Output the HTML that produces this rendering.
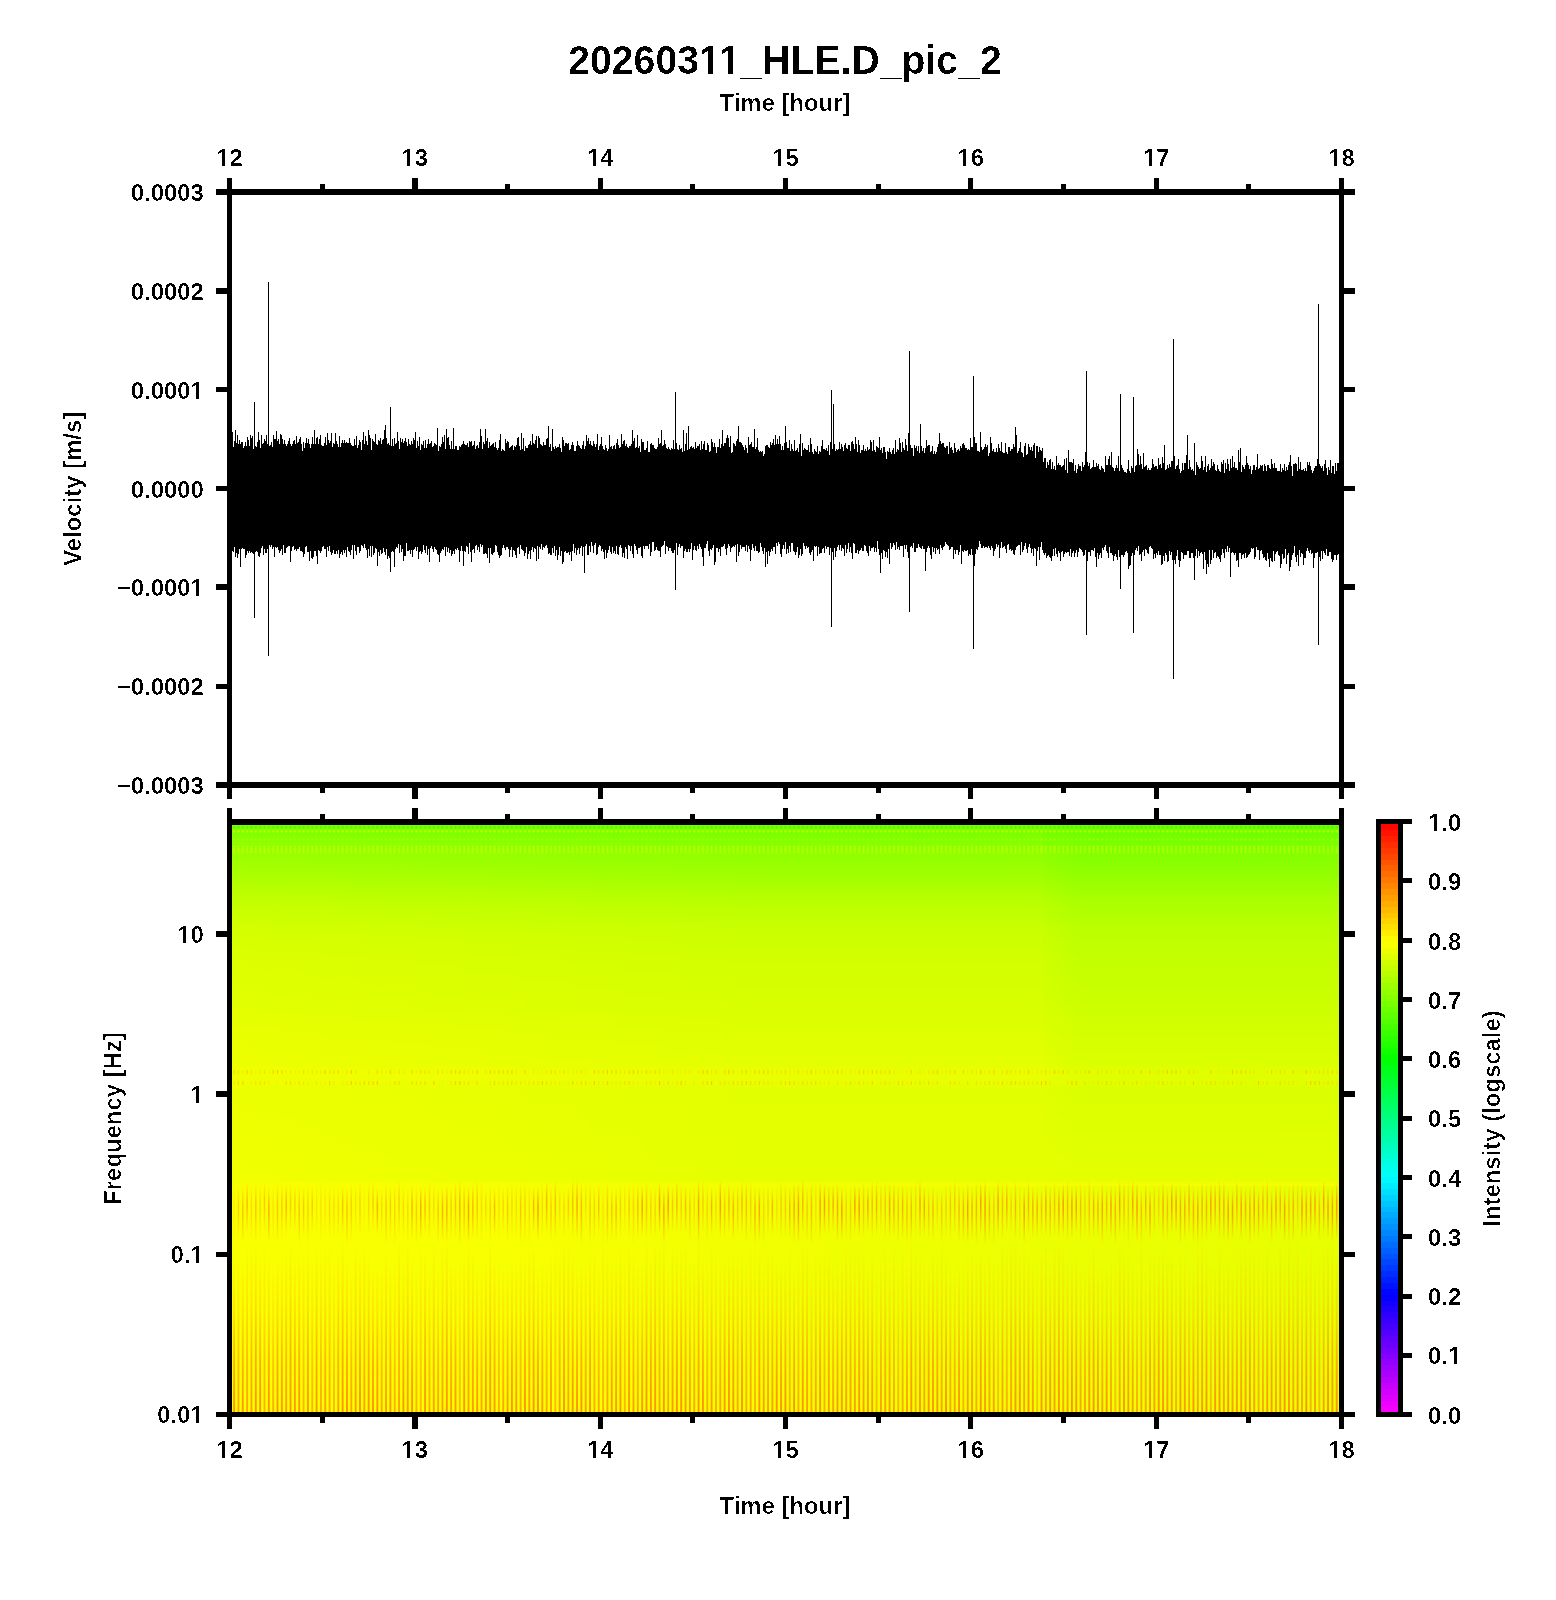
<!DOCTYPE html><html><head><meta charset="utf-8"><style>html,body{margin:0;padding:0;background:#fff;}svg{display:block}</style></head><body>
<svg width="1556" height="1600" viewBox="0 0 1556 1600" font-family="Liberation Sans, sans-serif" font-weight="bold">
<rect width="1556" height="1600" fill="#fff"/>
<defs><linearGradient id="sg" x1="0" y1="825" x2="0" y2="1412" gradientUnits="userSpaceOnUse"><stop offset="0.0000" stop-color="rgb(118, 255, 0)"/><stop offset="0.0170" stop-color="rgb(124, 255, 0)"/><stop offset="0.0426" stop-color="rgb(140, 255, 0)"/><stop offset="0.0937" stop-color="rgb(165, 255, 0)"/><stop offset="0.1278" stop-color="rgb(184, 255, 0)"/><stop offset="0.1789" stop-color="rgb(202, 255, 0)"/><stop offset="0.2300" stop-color="rgb(210, 255, 0)"/><stop offset="0.2981" stop-color="rgb(215, 255, 0)"/><stop offset="0.3492" stop-color="rgb(222, 255, 0)"/><stop offset="0.4003" stop-color="rgb(227, 255, 0)"/><stop offset="0.4310" stop-color="rgb(234, 255, 0)"/><stop offset="0.4514" stop-color="rgb(226, 255, 0)"/><stop offset="0.6048" stop-color="rgb(229, 255, 0)"/><stop offset="0.6150" stop-color="rgb(249, 255, 0)"/><stop offset="1.0000" stop-color="rgb(252, 255, 0)"/></linearGradient><linearGradient id="gR" x1="0" y1="825" x2="0" y2="1185" gradientUnits="userSpaceOnUse"><stop offset="0" stop-color="#00ff00" stop-opacity="0.09"/><stop offset="0.3" stop-color="#00ff00" stop-opacity="0.07"/><stop offset="0.7" stop-color="#00ff00" stop-opacity="0.035"/><stop offset="1" stop-color="#00ff00" stop-opacity="0"/></linearGradient><linearGradient id="gRh" x1="1030" y1="0" x2="1080" y2="0" gradientUnits="userSpaceOnUse"><stop offset="0" stop-color="#fff" stop-opacity="0"/><stop offset="1" stop-color="#fff" stop-opacity="1"/></linearGradient><mask id="mR" maskUnits="userSpaceOnUse" x="1030" y="825" width="320" height="400"><rect x="1030" y="825" width="320" height="400" fill="url(#gRh)"/></mask><linearGradient id="gLh" x1="232" y1="0" x2="780" y2="0" gradientUnits="userSpaceOnUse"><stop offset="0" stop-color="#fff" stop-opacity="1"/><stop offset="1" stop-color="#fff" stop-opacity="0"/></linearGradient><linearGradient id="gLv" x1="0" y1="825" x2="0" y2="1185" gradientUnits="userSpaceOnUse"><stop offset="0" stop-color="#ffff00" stop-opacity="0.05"/><stop offset="0.3" stop-color="#ffff00" stop-opacity="0.2"/><stop offset="0.75" stop-color="#ffff00" stop-opacity="0.35"/><stop offset="1" stop-color="#ffff00" stop-opacity="0.5"/></linearGradient><mask id="mL" maskUnits="userSpaceOnUse" x="232" y="825" width="560" height="400"><rect x="232" y="825" width="560" height="400" fill="url(#gLh)"/></mask><linearGradient id="gLow" x1="232" y1="0" x2="1339" y2="0" gradientUnits="userSpaceOnUse"><stop offset="0" stop-color="#00ff00" stop-opacity="0"/><stop offset="0.25" stop-color="#00ff00" stop-opacity="0.01"/><stop offset="0.6" stop-color="#00ff00" stop-opacity="0.045"/><stop offset="1" stop-color="#00ff00" stop-opacity="0.075"/></linearGradient><pattern id="pd" x="231.929" y="824" width="4.341" height="40" patternUnits="userSpaceOnUse"><ellipse cx="2.171" cy="3.3" rx="1.0" ry="1.3" fill="rgb(40,235,0)" fill-opacity="0.5"/><ellipse cx="2.171" cy="7.3" rx="1.0" ry="1.4" fill="rgb(235,255,0)" fill-opacity="0.65"/><ellipse cx="2.171" cy="15.4" rx="0.9" ry="1.2" fill="rgb(215,255,0)" fill-opacity="0.45"/><ellipse cx="2.171" cy="22.6" rx="0.9" ry="1.0" fill="rgb(240,255,0)" fill-opacity="0.5"/><ellipse cx="2.171" cy="24.6" rx="0.9" ry="1.0" fill="rgb(240,255,0)" fill-opacity="0.5"/><ellipse cx="2.171" cy="26.4" rx="0.9" ry="1.0" fill="rgb(245,255,0)" fill-opacity="0.55"/><ellipse cx="2.171" cy="28.4" rx="0.9" ry="1.0" fill="rgb(240,255,0)" fill-opacity="0.5"/></pattern><linearGradient id="gA" x1="0" y1="0" x2="0" y2="1"><stop offset="0" stop-color="rgb(255,150,0)" stop-opacity="0"/><stop offset="0.35" stop-color="rgb(255,150,0)" stop-opacity="0.9"/><stop offset="0.5" stop-color="rgb(255,150,0)" stop-opacity="0.9"/><stop offset="1" stop-color="rgb(255,150,0)" stop-opacity="0"/></linearGradient><linearGradient id="gB" x1="0" y1="0" x2="0" y2="1"><stop offset="0" stop-color="rgb(255,140,0)" stop-opacity="0"/><stop offset="0.35" stop-color="rgb(255,140,0)" stop-opacity="0.25"/><stop offset="0.7" stop-color="rgb(255,140,0)" stop-opacity="0.7"/><stop offset="1" stop-color="rgb(255,140,0)" stop-opacity="0.95"/></linearGradient></defs>
<rect x="232" y="825" width="1107" height="587" fill="url(#sg)"/><rect x="1043" y="825" width="296" height="360" fill="url(#gR)" mask="url(#mR)"/><rect x="232" y="825" width="550" height="360" fill="url(#gLv)" mask="url(#mL)"/><rect x="232" y="1186" width="1107" height="226" fill="url(#gLow)"/><rect x="232" y="825" width="1107" height="35" fill="url(#pd)"/><g fill="rgb(255,200,0)"><rect x="233.50" y="1070" width="1.2" height="4" opacity="0.63"/><rect x="233.50" y="1081" width="1.2" height="4" opacity="0.38"/><rect x="237.84" y="1070" width="1.2" height="4" opacity="0.41"/><rect x="237.84" y="1081" width="1.2" height="4" opacity="0.64"/><rect x="242.18" y="1070" width="1.2" height="4" opacity="0.29"/><rect x="242.18" y="1081" width="1.2" height="4" opacity="0.80"/><rect x="246.52" y="1070" width="1.2" height="4" opacity="0.82"/><rect x="250.86" y="1070" width="1.2" height="4" opacity="0.43"/><rect x="250.86" y="1081" width="1.2" height="4" opacity="0.23"/><rect x="255.21" y="1070" width="1.2" height="4" opacity="0.26"/><rect x="255.21" y="1081" width="1.2" height="4" opacity="0.49"/><rect x="259.55" y="1070" width="1.2" height="4" opacity="0.40"/><rect x="259.55" y="1081" width="1.2" height="4" opacity="0.62"/><rect x="263.89" y="1070" width="1.2" height="4" opacity="0.55"/><rect x="263.89" y="1081" width="1.2" height="4" opacity="0.56"/><rect x="268.23" y="1070" width="1.2" height="4" opacity="0.22"/><rect x="268.23" y="1081" width="1.2" height="4" opacity="0.35"/><rect x="272.57" y="1070" width="1.2" height="4" opacity="0.89"/><rect x="276.91" y="1070" width="1.2" height="4" opacity="0.97"/><rect x="276.91" y="1081" width="1.2" height="4" opacity="0.28"/><rect x="281.25" y="1070" width="1.2" height="4" opacity="0.80"/><rect x="285.59" y="1070" width="1.2" height="4" opacity="0.32"/><rect x="285.59" y="1081" width="1.2" height="4" opacity="0.70"/><rect x="289.93" y="1070" width="1.2" height="4" opacity="0.50"/><rect x="289.93" y="1081" width="1.2" height="4" opacity="0.76"/><rect x="294.27" y="1070" width="1.2" height="4" opacity="0.19"/><rect x="294.27" y="1081" width="1.2" height="4" opacity="0.28"/><rect x="298.62" y="1070" width="1.2" height="4" opacity="0.25"/><rect x="298.62" y="1081" width="1.2" height="4" opacity="0.60"/><rect x="302.96" y="1070" width="1.2" height="4" opacity="0.59"/><rect x="302.96" y="1081" width="1.2" height="4" opacity="0.41"/><rect x="307.30" y="1070" width="1.2" height="4" opacity="0.37"/><rect x="307.30" y="1081" width="1.2" height="4" opacity="0.36"/><rect x="311.64" y="1070" width="1.2" height="4" opacity="0.48"/><rect x="311.64" y="1081" width="1.2" height="4" opacity="0.17"/><rect x="315.98" y="1070" width="1.2" height="4" opacity="0.43"/><rect x="315.98" y="1081" width="1.2" height="4" opacity="0.41"/><rect x="320.32" y="1070" width="1.2" height="4" opacity="0.29"/><rect x="320.32" y="1081" width="1.2" height="4" opacity="0.28"/><rect x="324.66" y="1070" width="1.2" height="4" opacity="0.89"/><rect x="324.66" y="1081" width="1.2" height="4" opacity="0.27"/><rect x="329.00" y="1070" width="1.2" height="4" opacity="0.57"/><rect x="329.00" y="1081" width="1.2" height="4" opacity="0.86"/><rect x="333.34" y="1070" width="1.2" height="4" opacity="0.67"/><rect x="333.34" y="1081" width="1.2" height="4" opacity="0.46"/><rect x="337.68" y="1070" width="1.2" height="4" opacity="0.75"/><rect x="342.02" y="1070" width="1.2" height="4" opacity="0.08"/><rect x="342.02" y="1081" width="1.2" height="4" opacity="0.33"/><rect x="346.37" y="1070" width="1.2" height="4" opacity="0.38"/><rect x="346.37" y="1081" width="1.2" height="4" opacity="0.42"/><rect x="350.71" y="1070" width="1.2" height="4" opacity="1.00"/><rect x="350.71" y="1081" width="1.2" height="4" opacity="0.96"/><rect x="355.05" y="1070" width="1.2" height="4" opacity="0.44"/><rect x="355.05" y="1081" width="1.2" height="4" opacity="0.53"/><rect x="359.39" y="1070" width="1.2" height="4" opacity="0.18"/><rect x="359.39" y="1081" width="1.2" height="4" opacity="0.55"/><rect x="363.73" y="1081" width="1.2" height="4" opacity="0.87"/><rect x="368.07" y="1070" width="1.2" height="4" opacity="0.29"/><rect x="368.07" y="1081" width="1.2" height="4" opacity="0.62"/><rect x="372.41" y="1070" width="1.2" height="4" opacity="0.06"/><rect x="372.41" y="1081" width="1.2" height="4" opacity="0.87"/><rect x="376.75" y="1070" width="1.2" height="4" opacity="0.63"/><rect x="376.75" y="1081" width="1.2" height="4" opacity="1.00"/><rect x="381.09" y="1070" width="1.2" height="4" opacity="0.47"/><rect x="385.43" y="1070" width="1.2" height="4" opacity="0.21"/><rect x="385.43" y="1081" width="1.2" height="4" opacity="0.07"/><rect x="389.78" y="1070" width="1.2" height="4" opacity="0.92"/><rect x="389.78" y="1081" width="1.2" height="4" opacity="0.26"/><rect x="394.12" y="1070" width="1.2" height="4" opacity="0.22"/><rect x="394.12" y="1081" width="1.2" height="4" opacity="0.63"/><rect x="398.46" y="1070" width="1.2" height="4" opacity="0.53"/><rect x="398.46" y="1081" width="1.2" height="4" opacity="0.60"/><rect x="402.80" y="1070" width="1.2" height="4" opacity="0.30"/><rect x="411.48" y="1070" width="1.2" height="4" opacity="0.83"/><rect x="411.48" y="1081" width="1.2" height="4" opacity="0.72"/><rect x="415.82" y="1070" width="1.2" height="4" opacity="0.34"/><rect x="415.82" y="1081" width="1.2" height="4" opacity="0.64"/><rect x="420.16" y="1070" width="1.2" height="4" opacity="0.65"/><rect x="420.16" y="1081" width="1.2" height="4" opacity="0.64"/><rect x="424.50" y="1070" width="1.2" height="4" opacity="0.61"/><rect x="424.50" y="1081" width="1.2" height="4" opacity="0.72"/><rect x="428.84" y="1070" width="1.2" height="4" opacity="0.47"/><rect x="433.19" y="1081" width="1.2" height="4" opacity="0.83"/><rect x="437.53" y="1070" width="1.2" height="4" opacity="0.63"/><rect x="441.87" y="1070" width="1.2" height="4" opacity="0.50"/><rect x="441.87" y="1081" width="1.2" height="4" opacity="0.19"/><rect x="446.21" y="1070" width="1.2" height="4" opacity="0.29"/><rect x="450.55" y="1070" width="1.2" height="4" opacity="0.68"/><rect x="450.55" y="1081" width="1.2" height="4" opacity="0.42"/><rect x="454.89" y="1070" width="1.2" height="4" opacity="0.70"/><rect x="454.89" y="1081" width="1.2" height="4" opacity="0.78"/><rect x="459.23" y="1070" width="1.2" height="4" opacity="0.84"/><rect x="459.23" y="1081" width="1.2" height="4" opacity="0.95"/><rect x="463.57" y="1070" width="1.2" height="4" opacity="0.54"/><rect x="463.57" y="1081" width="1.2" height="4" opacity="0.52"/><rect x="467.91" y="1070" width="1.2" height="4" opacity="0.26"/><rect x="467.91" y="1081" width="1.2" height="4" opacity="0.61"/><rect x="472.25" y="1070" width="1.2" height="4" opacity="0.38"/><rect x="472.25" y="1081" width="1.2" height="4" opacity="0.10"/><rect x="476.60" y="1070" width="1.2" height="4" opacity="0.81"/><rect x="476.60" y="1081" width="1.2" height="4" opacity="0.67"/><rect x="485.28" y="1070" width="1.2" height="4" opacity="0.38"/><rect x="489.62" y="1070" width="1.2" height="4" opacity="0.82"/><rect x="489.62" y="1081" width="1.2" height="4" opacity="0.51"/><rect x="493.96" y="1070" width="1.2" height="4" opacity="0.62"/><rect x="493.96" y="1081" width="1.2" height="4" opacity="0.74"/><rect x="498.30" y="1070" width="1.2" height="4" opacity="0.86"/><rect x="498.30" y="1081" width="1.2" height="4" opacity="0.37"/><rect x="502.64" y="1070" width="1.2" height="4" opacity="0.64"/><rect x="502.64" y="1081" width="1.2" height="4" opacity="0.53"/><rect x="506.98" y="1070" width="1.2" height="4" opacity="0.70"/><rect x="506.98" y="1081" width="1.2" height="4" opacity="0.62"/><rect x="511.32" y="1070" width="1.2" height="4" opacity="0.88"/><rect x="511.32" y="1081" width="1.2" height="4" opacity="0.62"/><rect x="515.66" y="1070" width="1.2" height="4" opacity="0.31"/><rect x="515.66" y="1081" width="1.2" height="4" opacity="0.49"/><rect x="520.01" y="1070" width="1.2" height="4" opacity="0.11"/><rect x="520.01" y="1081" width="1.2" height="4" opacity="0.55"/><rect x="524.35" y="1070" width="1.2" height="4" opacity="0.91"/><rect x="524.35" y="1081" width="1.2" height="4" opacity="0.27"/><rect x="528.69" y="1081" width="1.2" height="4" opacity="0.43"/><rect x="533.03" y="1070" width="1.2" height="4" opacity="0.30"/><rect x="533.03" y="1081" width="1.2" height="4" opacity="0.45"/><rect x="537.37" y="1070" width="1.2" height="4" opacity="0.28"/><rect x="537.37" y="1081" width="1.2" height="4" opacity="0.48"/><rect x="541.71" y="1070" width="1.2" height="4" opacity="0.15"/><rect x="541.71" y="1081" width="1.2" height="4" opacity="0.92"/><rect x="546.05" y="1070" width="1.2" height="4" opacity="0.39"/><rect x="546.05" y="1081" width="1.2" height="4" opacity="0.61"/><rect x="550.39" y="1070" width="1.2" height="4" opacity="0.69"/><rect x="550.39" y="1081" width="1.2" height="4" opacity="0.41"/><rect x="554.73" y="1070" width="1.2" height="4" opacity="0.59"/><rect x="554.73" y="1081" width="1.2" height="4" opacity="0.38"/><rect x="559.07" y="1070" width="1.2" height="4" opacity="0.32"/><rect x="559.07" y="1081" width="1.2" height="4" opacity="0.39"/><rect x="563.42" y="1070" width="1.2" height="4" opacity="0.60"/><rect x="563.42" y="1081" width="1.2" height="4" opacity="0.07"/><rect x="567.76" y="1070" width="1.2" height="4" opacity="0.18"/><rect x="567.76" y="1081" width="1.2" height="4" opacity="0.21"/><rect x="572.10" y="1070" width="1.2" height="4" opacity="0.28"/><rect x="572.10" y="1081" width="1.2" height="4" opacity="0.81"/><rect x="576.44" y="1070" width="1.2" height="4" opacity="0.45"/><rect x="576.44" y="1081" width="1.2" height="4" opacity="0.36"/><rect x="580.78" y="1070" width="1.2" height="4" opacity="0.50"/><rect x="580.78" y="1081" width="1.2" height="4" opacity="0.78"/><rect x="585.12" y="1070" width="1.2" height="4" opacity="0.23"/><rect x="585.12" y="1081" width="1.2" height="4" opacity="0.77"/><rect x="589.46" y="1081" width="1.2" height="4" opacity="0.19"/><rect x="593.80" y="1070" width="1.2" height="4" opacity="0.90"/><rect x="593.80" y="1081" width="1.2" height="4" opacity="0.93"/><rect x="598.14" y="1070" width="1.2" height="4" opacity="0.52"/><rect x="598.14" y="1081" width="1.2" height="4" opacity="0.33"/><rect x="602.49" y="1070" width="1.2" height="4" opacity="0.71"/><rect x="602.49" y="1081" width="1.2" height="4" opacity="0.34"/><rect x="606.83" y="1070" width="1.2" height="4" opacity="0.93"/><rect x="606.83" y="1081" width="1.2" height="4" opacity="0.82"/><rect x="611.17" y="1070" width="1.2" height="4" opacity="0.69"/><rect x="611.17" y="1081" width="1.2" height="4" opacity="0.21"/><rect x="615.51" y="1070" width="1.2" height="4" opacity="0.76"/><rect x="615.51" y="1081" width="1.2" height="4" opacity="0.39"/><rect x="619.85" y="1070" width="1.2" height="4" opacity="0.39"/><rect x="619.85" y="1081" width="1.2" height="4" opacity="0.34"/><rect x="624.19" y="1070" width="1.2" height="4" opacity="0.43"/><rect x="624.19" y="1081" width="1.2" height="4" opacity="0.61"/><rect x="628.53" y="1070" width="1.2" height="4" opacity="0.72"/><rect x="628.53" y="1081" width="1.2" height="4" opacity="0.72"/><rect x="632.87" y="1070" width="1.2" height="4" opacity="1.00"/><rect x="632.87" y="1081" width="1.2" height="4" opacity="0.36"/><rect x="637.21" y="1070" width="1.2" height="4" opacity="0.82"/><rect x="637.21" y="1081" width="1.2" height="4" opacity="0.27"/><rect x="641.55" y="1070" width="1.2" height="4" opacity="0.41"/><rect x="641.55" y="1081" width="1.2" height="4" opacity="0.12"/><rect x="645.89" y="1070" width="1.2" height="4" opacity="0.83"/><rect x="645.89" y="1081" width="1.2" height="4" opacity="0.55"/><rect x="650.24" y="1070" width="1.2" height="4" opacity="0.51"/><rect x="650.24" y="1081" width="1.2" height="4" opacity="0.43"/><rect x="654.58" y="1070" width="1.2" height="4" opacity="0.75"/><rect x="654.58" y="1081" width="1.2" height="4" opacity="0.32"/><rect x="658.92" y="1070" width="1.2" height="4" opacity="0.59"/><rect x="658.92" y="1081" width="1.2" height="4" opacity="1.00"/><rect x="663.26" y="1070" width="1.2" height="4" opacity="0.43"/><rect x="663.26" y="1081" width="1.2" height="4" opacity="0.28"/><rect x="667.60" y="1070" width="1.2" height="4" opacity="0.17"/><rect x="667.60" y="1081" width="1.2" height="4" opacity="0.72"/><rect x="671.94" y="1070" width="1.2" height="4" opacity="0.49"/><rect x="671.94" y="1081" width="1.2" height="4" opacity="0.25"/><rect x="676.28" y="1070" width="1.2" height="4" opacity="0.22"/><rect x="676.28" y="1081" width="1.2" height="4" opacity="0.48"/><rect x="680.62" y="1070" width="1.2" height="4" opacity="0.17"/><rect x="680.62" y="1081" width="1.2" height="4" opacity="1.00"/><rect x="684.96" y="1070" width="1.2" height="4" opacity="0.42"/><rect x="684.96" y="1081" width="1.2" height="4" opacity="0.42"/><rect x="689.30" y="1070" width="1.2" height="4" opacity="0.45"/><rect x="693.65" y="1081" width="1.2" height="4" opacity="0.37"/><rect x="697.99" y="1070" width="1.2" height="4" opacity="0.47"/><rect x="697.99" y="1081" width="1.2" height="4" opacity="0.10"/><rect x="702.33" y="1070" width="1.2" height="4" opacity="0.99"/><rect x="702.33" y="1081" width="1.2" height="4" opacity="0.61"/><rect x="706.67" y="1070" width="1.2" height="4" opacity="0.86"/><rect x="706.67" y="1081" width="1.2" height="4" opacity="0.83"/><rect x="711.01" y="1070" width="1.2" height="4" opacity="0.41"/><rect x="711.01" y="1081" width="1.2" height="4" opacity="1.00"/><rect x="715.35" y="1070" width="1.2" height="4" opacity="0.51"/><rect x="719.69" y="1081" width="1.2" height="4" opacity="0.48"/><rect x="724.03" y="1070" width="1.2" height="4" opacity="0.74"/><rect x="724.03" y="1081" width="1.2" height="4" opacity="0.50"/><rect x="728.37" y="1070" width="1.2" height="4" opacity="1.00"/><rect x="728.37" y="1081" width="1.2" height="4" opacity="0.38"/><rect x="732.72" y="1070" width="1.2" height="4" opacity="0.65"/><rect x="732.72" y="1081" width="1.2" height="4" opacity="0.70"/><rect x="737.06" y="1070" width="1.2" height="4" opacity="0.16"/><rect x="737.06" y="1081" width="1.2" height="4" opacity="0.57"/><rect x="741.40" y="1070" width="1.2" height="4" opacity="0.59"/><rect x="741.40" y="1081" width="1.2" height="4" opacity="0.80"/><rect x="745.74" y="1070" width="1.2" height="4" opacity="0.84"/><rect x="745.74" y="1081" width="1.2" height="4" opacity="0.77"/><rect x="750.08" y="1070" width="1.2" height="4" opacity="0.25"/><rect x="750.08" y="1081" width="1.2" height="4" opacity="0.70"/><rect x="754.42" y="1070" width="1.2" height="4" opacity="0.80"/><rect x="754.42" y="1081" width="1.2" height="4" opacity="0.49"/><rect x="758.76" y="1070" width="1.2" height="4" opacity="0.70"/><rect x="758.76" y="1081" width="1.2" height="4" opacity="0.71"/><rect x="763.10" y="1070" width="1.2" height="4" opacity="0.83"/><rect x="763.10" y="1081" width="1.2" height="4" opacity="0.50"/><rect x="767.44" y="1070" width="1.2" height="4" opacity="0.62"/><rect x="767.44" y="1081" width="1.2" height="4" opacity="0.53"/><rect x="771.78" y="1070" width="1.2" height="4" opacity="0.49"/><rect x="771.78" y="1081" width="1.2" height="4" opacity="0.29"/><rect x="776.12" y="1070" width="1.2" height="4" opacity="0.37"/><rect x="776.12" y="1081" width="1.2" height="4" opacity="0.14"/><rect x="780.47" y="1070" width="1.2" height="4" opacity="0.41"/><rect x="780.47" y="1081" width="1.2" height="4" opacity="0.68"/><rect x="784.81" y="1070" width="1.2" height="4" opacity="0.66"/><rect x="784.81" y="1081" width="1.2" height="4" opacity="0.70"/><rect x="789.15" y="1070" width="1.2" height="4" opacity="0.44"/><rect x="789.15" y="1081" width="1.2" height="4" opacity="0.89"/><rect x="793.49" y="1070" width="1.2" height="4" opacity="0.33"/><rect x="793.49" y="1081" width="1.2" height="4" opacity="0.70"/><rect x="797.83" y="1070" width="1.2" height="4" opacity="0.60"/><rect x="797.83" y="1081" width="1.2" height="4" opacity="0.25"/><rect x="802.17" y="1070" width="1.2" height="4" opacity="0.26"/><rect x="802.17" y="1081" width="1.2" height="4" opacity="0.70"/><rect x="806.51" y="1070" width="1.2" height="4" opacity="0.48"/><rect x="806.51" y="1081" width="1.2" height="4" opacity="0.55"/><rect x="810.85" y="1070" width="1.2" height="4" opacity="1.00"/><rect x="810.85" y="1081" width="1.2" height="4" opacity="0.64"/><rect x="815.19" y="1070" width="1.2" height="4" opacity="0.51"/><rect x="815.19" y="1081" width="1.2" height="4" opacity="0.69"/><rect x="819.54" y="1070" width="1.2" height="4" opacity="0.29"/><rect x="819.54" y="1081" width="1.2" height="4" opacity="0.42"/><rect x="823.88" y="1070" width="1.2" height="4" opacity="0.61"/><rect x="823.88" y="1081" width="1.2" height="4" opacity="0.23"/><rect x="828.22" y="1070" width="1.2" height="4" opacity="0.46"/><rect x="828.22" y="1081" width="1.2" height="4" opacity="0.42"/><rect x="832.56" y="1070" width="1.2" height="4" opacity="0.51"/><rect x="836.90" y="1070" width="1.2" height="4" opacity="1.00"/><rect x="836.90" y="1081" width="1.2" height="4" opacity="0.45"/><rect x="841.24" y="1070" width="1.2" height="4" opacity="0.64"/><rect x="841.24" y="1081" width="1.2" height="4" opacity="0.16"/><rect x="845.58" y="1070" width="1.2" height="4" opacity="0.08"/><rect x="845.58" y="1081" width="1.2" height="4" opacity="0.48"/><rect x="849.92" y="1070" width="1.2" height="4" opacity="0.38"/><rect x="849.92" y="1081" width="1.2" height="4" opacity="0.67"/><rect x="854.26" y="1070" width="1.2" height="4" opacity="0.20"/><rect x="854.26" y="1081" width="1.2" height="4" opacity="0.18"/><rect x="858.60" y="1070" width="1.2" height="4" opacity="0.57"/><rect x="858.60" y="1081" width="1.2" height="4" opacity="0.68"/><rect x="862.95" y="1070" width="1.2" height="4" opacity="0.75"/><rect x="862.95" y="1081" width="1.2" height="4" opacity="0.46"/><rect x="867.29" y="1070" width="1.2" height="4" opacity="0.55"/><rect x="867.29" y="1081" width="1.2" height="4" opacity="0.23"/><rect x="871.63" y="1070" width="1.2" height="4" opacity="0.87"/><rect x="871.63" y="1081" width="1.2" height="4" opacity="0.82"/><rect x="875.97" y="1070" width="1.2" height="4" opacity="0.81"/><rect x="880.31" y="1070" width="1.2" height="4" opacity="0.74"/><rect x="880.31" y="1081" width="1.2" height="4" opacity="0.25"/><rect x="884.65" y="1070" width="1.2" height="4" opacity="0.62"/><rect x="884.65" y="1081" width="1.2" height="4" opacity="0.60"/><rect x="888.99" y="1070" width="1.2" height="4" opacity="0.84"/><rect x="888.99" y="1081" width="1.2" height="4" opacity="0.41"/><rect x="893.33" y="1070" width="1.2" height="4" opacity="0.37"/><rect x="893.33" y="1081" width="1.2" height="4" opacity="0.17"/><rect x="897.67" y="1070" width="1.2" height="4" opacity="0.12"/><rect x="897.67" y="1081" width="1.2" height="4" opacity="0.64"/><rect x="902.01" y="1070" width="1.2" height="4" opacity="0.20"/><rect x="902.01" y="1081" width="1.2" height="4" opacity="0.67"/><rect x="906.36" y="1070" width="1.2" height="4" opacity="0.36"/><rect x="906.36" y="1081" width="1.2" height="4" opacity="0.30"/><rect x="910.70" y="1070" width="1.2" height="4" opacity="0.76"/><rect x="910.70" y="1081" width="1.2" height="4" opacity="0.73"/><rect x="915.04" y="1070" width="1.2" height="4" opacity="0.17"/><rect x="915.04" y="1081" width="1.2" height="4" opacity="0.42"/><rect x="919.38" y="1070" width="1.2" height="4" opacity="0.47"/><rect x="919.38" y="1081" width="1.2" height="4" opacity="0.67"/><rect x="923.72" y="1070" width="1.2" height="4" opacity="0.25"/><rect x="923.72" y="1081" width="1.2" height="4" opacity="0.34"/><rect x="928.06" y="1070" width="1.2" height="4" opacity="0.43"/><rect x="928.06" y="1081" width="1.2" height="4" opacity="0.67"/><rect x="932.40" y="1070" width="1.2" height="4" opacity="0.73"/><rect x="932.40" y="1081" width="1.2" height="4" opacity="0.31"/><rect x="936.74" y="1070" width="1.2" height="4" opacity="0.99"/><rect x="936.74" y="1081" width="1.2" height="4" opacity="0.59"/><rect x="941.08" y="1070" width="1.2" height="4" opacity="0.23"/><rect x="945.42" y="1070" width="1.2" height="4" opacity="0.32"/><rect x="949.76" y="1070" width="1.2" height="4" opacity="0.52"/><rect x="949.76" y="1081" width="1.2" height="4" opacity="0.63"/><rect x="954.11" y="1070" width="1.2" height="4" opacity="0.85"/><rect x="954.11" y="1081" width="1.2" height="4" opacity="0.61"/><rect x="958.45" y="1081" width="1.2" height="4" opacity="0.38"/><rect x="962.79" y="1070" width="1.2" height="4" opacity="0.67"/><rect x="967.13" y="1070" width="1.2" height="4" opacity="0.22"/><rect x="967.13" y="1081" width="1.2" height="4" opacity="0.65"/><rect x="971.47" y="1070" width="1.2" height="4" opacity="0.48"/><rect x="975.81" y="1070" width="1.2" height="4" opacity="0.31"/><rect x="975.81" y="1081" width="1.2" height="4" opacity="0.47"/><rect x="980.15" y="1070" width="1.2" height="4" opacity="1.00"/><rect x="980.15" y="1081" width="1.2" height="4" opacity="0.33"/><rect x="984.49" y="1070" width="1.2" height="4" opacity="0.19"/><rect x="984.49" y="1081" width="1.2" height="4" opacity="0.54"/><rect x="988.83" y="1070" width="1.2" height="4" opacity="0.57"/><rect x="988.83" y="1081" width="1.2" height="4" opacity="0.64"/><rect x="993.18" y="1070" width="1.2" height="4" opacity="0.90"/><rect x="993.18" y="1081" width="1.2" height="4" opacity="0.45"/><rect x="997.52" y="1070" width="1.2" height="4" opacity="0.05"/><rect x="997.52" y="1081" width="1.2" height="4" opacity="0.48"/><rect x="1001.86" y="1070" width="1.2" height="4" opacity="0.47"/><rect x="1001.86" y="1081" width="1.2" height="4" opacity="0.76"/><rect x="1006.20" y="1070" width="1.2" height="4" opacity="0.72"/><rect x="1006.20" y="1081" width="1.2" height="4" opacity="0.25"/><rect x="1010.54" y="1070" width="1.2" height="4" opacity="0.70"/><rect x="1010.54" y="1081" width="1.2" height="4" opacity="0.77"/><rect x="1014.88" y="1070" width="1.2" height="4" opacity="0.41"/><rect x="1014.88" y="1081" width="1.2" height="4" opacity="0.75"/><rect x="1019.22" y="1070" width="1.2" height="4" opacity="0.52"/><rect x="1019.22" y="1081" width="1.2" height="4" opacity="0.52"/><rect x="1023.56" y="1070" width="1.2" height="4" opacity="0.42"/><rect x="1023.56" y="1081" width="1.2" height="4" opacity="0.71"/><rect x="1027.90" y="1070" width="1.2" height="4" opacity="1.00"/><rect x="1027.90" y="1081" width="1.2" height="4" opacity="0.53"/><rect x="1032.24" y="1070" width="1.2" height="4" opacity="0.12"/><rect x="1032.24" y="1081" width="1.2" height="4" opacity="0.40"/><rect x="1036.59" y="1070" width="1.2" height="4" opacity="0.29"/><rect x="1036.59" y="1081" width="1.2" height="4" opacity="0.56"/><rect x="1040.93" y="1070" width="1.2" height="4" opacity="0.42"/><rect x="1040.93" y="1081" width="1.2" height="4" opacity="1.00"/><rect x="1045.27" y="1070" width="1.2" height="4" opacity="0.69"/><rect x="1045.27" y="1081" width="1.2" height="4" opacity="1.00"/><rect x="1049.61" y="1070" width="1.2" height="4" opacity="0.26"/><rect x="1049.61" y="1081" width="1.2" height="4" opacity="0.40"/><rect x="1053.95" y="1070" width="1.2" height="4" opacity="1.00"/><rect x="1058.29" y="1070" width="1.2" height="4" opacity="0.51"/><rect x="1062.63" y="1070" width="1.2" height="4" opacity="0.93"/><rect x="1066.97" y="1070" width="1.2" height="4" opacity="0.38"/><rect x="1066.97" y="1081" width="1.2" height="4" opacity="0.41"/><rect x="1071.31" y="1081" width="1.2" height="4" opacity="1.00"/><rect x="1075.65" y="1070" width="1.2" height="4" opacity="0.42"/><rect x="1075.65" y="1081" width="1.2" height="4" opacity="0.96"/><rect x="1080.00" y="1070" width="1.2" height="4" opacity="0.26"/><rect x="1084.34" y="1070" width="1.2" height="4" opacity="0.53"/><rect x="1084.34" y="1081" width="1.2" height="4" opacity="0.52"/><rect x="1088.68" y="1070" width="1.2" height="4" opacity="1.00"/><rect x="1088.68" y="1081" width="1.2" height="4" opacity="0.15"/><rect x="1093.02" y="1081" width="1.2" height="4" opacity="0.25"/><rect x="1097.36" y="1070" width="1.2" height="4" opacity="0.56"/><rect x="1097.36" y="1081" width="1.2" height="4" opacity="0.63"/><rect x="1101.70" y="1070" width="1.2" height="4" opacity="0.24"/><rect x="1101.70" y="1081" width="1.2" height="4" opacity="0.36"/><rect x="1106.04" y="1070" width="1.2" height="4" opacity="0.63"/><rect x="1106.04" y="1081" width="1.2" height="4" opacity="0.79"/><rect x="1110.38" y="1070" width="1.2" height="4" opacity="0.28"/><rect x="1110.38" y="1081" width="1.2" height="4" opacity="0.50"/><rect x="1114.72" y="1081" width="1.2" height="4" opacity="0.17"/><rect x="1119.06" y="1070" width="1.2" height="4" opacity="0.59"/><rect x="1119.06" y="1081" width="1.2" height="4" opacity="0.46"/><rect x="1123.41" y="1070" width="1.2" height="4" opacity="0.41"/><rect x="1123.41" y="1081" width="1.2" height="4" opacity="0.95"/><rect x="1127.75" y="1070" width="1.2" height="4" opacity="0.38"/><rect x="1127.75" y="1081" width="1.2" height="4" opacity="0.13"/><rect x="1132.09" y="1070" width="1.2" height="4" opacity="0.52"/><rect x="1132.09" y="1081" width="1.2" height="4" opacity="0.52"/><rect x="1136.43" y="1070" width="1.2" height="4" opacity="0.12"/><rect x="1136.43" y="1081" width="1.2" height="4" opacity="0.76"/><rect x="1140.77" y="1070" width="1.2" height="4" opacity="0.97"/><rect x="1140.77" y="1081" width="1.2" height="4" opacity="0.28"/><rect x="1145.11" y="1070" width="1.2" height="4" opacity="0.20"/><rect x="1145.11" y="1081" width="1.2" height="4" opacity="0.44"/><rect x="1149.45" y="1070" width="1.2" height="4" opacity="0.84"/><rect x="1149.45" y="1081" width="1.2" height="4" opacity="0.29"/><rect x="1153.79" y="1070" width="1.2" height="4" opacity="0.24"/><rect x="1153.79" y="1081" width="1.2" height="4" opacity="0.28"/><rect x="1158.13" y="1070" width="1.2" height="4" opacity="0.53"/><rect x="1158.13" y="1081" width="1.2" height="4" opacity="0.53"/><rect x="1162.47" y="1070" width="1.2" height="4" opacity="0.41"/><rect x="1162.47" y="1081" width="1.2" height="4" opacity="0.82"/><rect x="1166.82" y="1070" width="1.2" height="4" opacity="1.00"/><rect x="1166.82" y="1081" width="1.2" height="4" opacity="0.29"/><rect x="1171.16" y="1070" width="1.2" height="4" opacity="0.77"/><rect x="1171.16" y="1081" width="1.2" height="4" opacity="0.54"/><rect x="1175.50" y="1070" width="1.2" height="4" opacity="1.00"/><rect x="1175.50" y="1081" width="1.2" height="4" opacity="0.20"/><rect x="1179.84" y="1070" width="1.2" height="4" opacity="0.36"/><rect x="1179.84" y="1081" width="1.2" height="4" opacity="0.49"/><rect x="1184.18" y="1081" width="1.2" height="4" opacity="0.40"/><rect x="1188.52" y="1070" width="1.2" height="4" opacity="0.68"/><rect x="1192.86" y="1070" width="1.2" height="4" opacity="0.50"/><rect x="1192.86" y="1081" width="1.2" height="4" opacity="1.00"/><rect x="1197.20" y="1070" width="1.2" height="4" opacity="0.28"/><rect x="1197.20" y="1081" width="1.2" height="4" opacity="0.19"/><rect x="1201.54" y="1081" width="1.2" height="4" opacity="0.43"/><rect x="1205.88" y="1081" width="1.2" height="4" opacity="0.63"/><rect x="1210.23" y="1070" width="1.2" height="4" opacity="0.96"/><rect x="1210.23" y="1081" width="1.2" height="4" opacity="0.63"/><rect x="1214.57" y="1070" width="1.2" height="4" opacity="0.22"/><rect x="1214.57" y="1081" width="1.2" height="4" opacity="0.66"/><rect x="1218.91" y="1070" width="1.2" height="4" opacity="0.32"/><rect x="1218.91" y="1081" width="1.2" height="4" opacity="0.12"/><rect x="1223.25" y="1070" width="1.2" height="4" opacity="0.31"/><rect x="1223.25" y="1081" width="1.2" height="4" opacity="0.53"/><rect x="1227.59" y="1070" width="1.2" height="4" opacity="0.35"/><rect x="1227.59" y="1081" width="1.2" height="4" opacity="0.62"/><rect x="1231.93" y="1070" width="1.2" height="4" opacity="1.00"/><rect x="1231.93" y="1081" width="1.2" height="4" opacity="0.65"/><rect x="1236.27" y="1070" width="1.2" height="4" opacity="0.69"/><rect x="1236.27" y="1081" width="1.2" height="4" opacity="0.26"/><rect x="1240.61" y="1070" width="1.2" height="4" opacity="0.86"/><rect x="1240.61" y="1081" width="1.2" height="4" opacity="0.57"/><rect x="1244.95" y="1070" width="1.2" height="4" opacity="0.76"/><rect x="1244.95" y="1081" width="1.2" height="4" opacity="0.23"/><rect x="1249.29" y="1070" width="1.2" height="4" opacity="0.53"/><rect x="1253.63" y="1070" width="1.2" height="4" opacity="0.35"/><rect x="1253.63" y="1081" width="1.2" height="4" opacity="0.21"/><rect x="1257.98" y="1070" width="1.2" height="4" opacity="0.16"/><rect x="1257.98" y="1081" width="1.2" height="4" opacity="0.98"/><rect x="1262.32" y="1081" width="1.2" height="4" opacity="0.41"/><rect x="1266.66" y="1070" width="1.2" height="4" opacity="0.42"/><rect x="1266.66" y="1081" width="1.2" height="4" opacity="0.62"/><rect x="1271.00" y="1070" width="1.2" height="4" opacity="0.76"/><rect x="1275.34" y="1070" width="1.2" height="4" opacity="0.30"/><rect x="1275.34" y="1081" width="1.2" height="4" opacity="0.25"/><rect x="1279.68" y="1070" width="1.2" height="4" opacity="0.67"/><rect x="1279.68" y="1081" width="1.2" height="4" opacity="0.74"/><rect x="1284.02" y="1070" width="1.2" height="4" opacity="0.33"/><rect x="1284.02" y="1081" width="1.2" height="4" opacity="0.29"/><rect x="1288.36" y="1070" width="1.2" height="4" opacity="0.15"/><rect x="1288.36" y="1081" width="1.2" height="4" opacity="0.57"/><rect x="1292.70" y="1070" width="1.2" height="4" opacity="0.96"/><rect x="1292.70" y="1081" width="1.2" height="4" opacity="0.57"/><rect x="1297.05" y="1070" width="1.2" height="4" opacity="0.24"/><rect x="1297.05" y="1081" width="1.2" height="4" opacity="0.21"/><rect x="1301.39" y="1070" width="1.2" height="4" opacity="0.24"/><rect x="1305.73" y="1070" width="1.2" height="4" opacity="0.98"/><rect x="1305.73" y="1081" width="1.2" height="4" opacity="0.48"/><rect x="1310.07" y="1070" width="1.2" height="4" opacity="0.35"/><rect x="1310.07" y="1081" width="1.2" height="4" opacity="1.00"/><rect x="1314.41" y="1070" width="1.2" height="4" opacity="0.52"/><rect x="1314.41" y="1081" width="1.2" height="4" opacity="0.90"/><rect x="1318.75" y="1070" width="1.2" height="4" opacity="0.54"/><rect x="1318.75" y="1081" width="1.2" height="4" opacity="0.78"/><rect x="1323.09" y="1070" width="1.2" height="4" opacity="0.48"/><rect x="1323.09" y="1081" width="1.2" height="4" opacity="0.34"/><rect x="1327.43" y="1070" width="1.2" height="4" opacity="0.58"/><rect x="1327.43" y="1081" width="1.2" height="4" opacity="0.67"/><rect x="1331.77" y="1070" width="1.2" height="4" opacity="0.78"/><rect x="1331.77" y="1081" width="1.2" height="4" opacity="0.51"/><rect x="1336.11" y="1070" width="1.2" height="4" opacity="0.38"/><rect x="1336.11" y="1081" width="1.2" height="4" opacity="0.34"/></g><g fill="url(#gA)"><rect x="233.35" y="1181" width="1.5" height="62" opacity="0.17"/><rect x="237.69" y="1186" width="1.5" height="53" opacity="0.44"/><rect x="242.03" y="1185" width="1.5" height="60" opacity="0.58"/><rect x="246.37" y="1182" width="1.5" height="51" opacity="0.65"/><rect x="250.71" y="1184" width="1.5" height="57" opacity="0.36"/><rect x="255.06" y="1182" width="1.5" height="60" opacity="0.57"/><rect x="259.40" y="1184" width="1.5" height="54" opacity="0.40"/><rect x="263.74" y="1182" width="1.5" height="50" opacity="0.55"/><rect x="268.08" y="1187" width="1.5" height="56" opacity="0.81"/><rect x="272.42" y="1185" width="1.5" height="57" opacity="0.27"/><rect x="276.76" y="1182" width="1.5" height="63" opacity="0.58"/><rect x="281.10" y="1184" width="1.5" height="55" opacity="0.52"/><rect x="285.44" y="1184" width="1.5" height="51" opacity="0.73"/><rect x="289.78" y="1183" width="1.5" height="49" opacity="0.50"/><rect x="294.12" y="1185" width="1.5" height="47" opacity="0.49"/><rect x="298.47" y="1185" width="1.5" height="60" opacity="0.58"/><rect x="302.81" y="1186" width="1.5" height="52" opacity="0.54"/><rect x="307.15" y="1184" width="1.5" height="61" opacity="0.47"/><rect x="311.49" y="1185" width="1.5" height="49" opacity="0.50"/><rect x="315.83" y="1184" width="1.5" height="54" opacity="0.25"/><rect x="320.17" y="1182" width="1.5" height="60" opacity="0.30"/><rect x="324.51" y="1185" width="1.5" height="51" opacity="0.27"/><rect x="328.85" y="1186" width="1.5" height="53" opacity="0.43"/><rect x="333.19" y="1185" width="1.5" height="55" opacity="0.35"/><rect x="337.53" y="1186" width="1.5" height="52" opacity="0.38"/><rect x="341.88" y="1185" width="1.5" height="50" opacity="0.64"/><rect x="346.22" y="1187" width="1.5" height="58" opacity="0.59"/><rect x="350.56" y="1183" width="1.5" height="58" opacity="0.49"/><rect x="354.90" y="1183" width="1.5" height="51" opacity="0.31"/><rect x="359.24" y="1182" width="1.5" height="55" opacity="0.47"/><rect x="363.58" y="1180" width="1.5" height="56" opacity="0.13"/><rect x="367.92" y="1182" width="1.5" height="54" opacity="0.42"/><rect x="372.26" y="1181" width="1.5" height="51" opacity="0.49"/><rect x="376.60" y="1188" width="1.5" height="48" opacity="0.80"/><rect x="380.94" y="1187" width="1.5" height="50" opacity="0.38"/><rect x="385.28" y="1183" width="1.5" height="62" opacity="0.57"/><rect x="389.63" y="1184" width="1.5" height="54" opacity="0.52"/><rect x="393.97" y="1184" width="1.5" height="61" opacity="0.43"/><rect x="398.31" y="1180" width="1.5" height="56" opacity="0.49"/><rect x="402.65" y="1186" width="1.5" height="52" opacity="0.39"/><rect x="406.99" y="1188" width="1.5" height="56" opacity="0.37"/><rect x="411.33" y="1185" width="1.5" height="55" opacity="0.77"/><rect x="415.67" y="1187" width="1.5" height="58" opacity="0.52"/><rect x="420.01" y="1186" width="1.5" height="54" opacity="0.88"/><rect x="424.35" y="1186" width="1.5" height="48" opacity="0.65"/><rect x="428.69" y="1181" width="1.5" height="60" opacity="0.54"/><rect x="433.04" y="1183" width="1.5" height="51" opacity="0.36"/><rect x="437.38" y="1187" width="1.5" height="57" opacity="0.55"/><rect x="441.72" y="1187" width="1.5" height="55" opacity="0.76"/><rect x="446.06" y="1185" width="1.5" height="57" opacity="0.79"/><rect x="450.40" y="1186" width="1.5" height="53" opacity="0.53"/><rect x="454.74" y="1181" width="1.5" height="58" opacity="0.60"/><rect x="459.08" y="1180" width="1.5" height="65" opacity="0.82"/><rect x="463.42" y="1184" width="1.5" height="56" opacity="0.62"/><rect x="467.76" y="1186" width="1.5" height="58" opacity="0.98"/><rect x="472.11" y="1184" width="1.5" height="55" opacity="0.72"/><rect x="476.45" y="1180" width="1.5" height="60" opacity="0.59"/><rect x="480.79" y="1180" width="1.5" height="64" opacity="0.36"/><rect x="485.13" y="1188" width="1.5" height="44" opacity="0.41"/><rect x="489.47" y="1185" width="1.5" height="58" opacity="0.49"/><rect x="493.81" y="1188" width="1.5" height="49" opacity="0.74"/><rect x="498.15" y="1183" width="1.5" height="56" opacity="0.31"/><rect x="502.49" y="1187" width="1.5" height="46" opacity="0.41"/><rect x="506.83" y="1185" width="1.5" height="58" opacity="0.57"/><rect x="511.17" y="1182" width="1.5" height="56" opacity="0.39"/><rect x="515.51" y="1183" width="1.5" height="55" opacity="0.36"/><rect x="519.86" y="1183" width="1.5" height="61" opacity="0.61"/><rect x="524.20" y="1182" width="1.5" height="60" opacity="0.49"/><rect x="528.54" y="1184" width="1.5" height="61" opacity="0.34"/><rect x="532.88" y="1187" width="1.5" height="46" opacity="0.74"/><rect x="537.22" y="1186" width="1.5" height="55" opacity="1.00"/><rect x="541.56" y="1183" width="1.5" height="54" opacity="0.39"/><rect x="545.90" y="1181" width="1.5" height="52" opacity="0.80"/><rect x="550.24" y="1185" width="1.5" height="58" opacity="0.51"/><rect x="554.58" y="1180" width="1.5" height="59" opacity="0.68"/><rect x="558.92" y="1186" width="1.5" height="46" opacity="0.38"/><rect x="563.27" y="1188" width="1.5" height="50" opacity="0.43"/><rect x="567.61" y="1186" width="1.5" height="46" opacity="0.52"/><rect x="571.95" y="1180" width="1.5" height="57" opacity="0.69"/><rect x="576.29" y="1180" width="1.5" height="59" opacity="0.87"/><rect x="580.63" y="1182" width="1.5" height="63" opacity="0.73"/><rect x="584.97" y="1181" width="1.5" height="51" opacity="0.33"/><rect x="589.31" y="1183" width="1.5" height="62" opacity="0.56"/><rect x="593.65" y="1186" width="1.5" height="55" opacity="0.49"/><rect x="597.99" y="1184" width="1.5" height="50" opacity="0.62"/><rect x="602.34" y="1187" width="1.5" height="58" opacity="0.27"/><rect x="606.68" y="1181" width="1.5" height="64" opacity="0.58"/><rect x="611.02" y="1188" width="1.5" height="53" opacity="0.58"/><rect x="615.36" y="1187" width="1.5" height="54" opacity="0.66"/><rect x="619.70" y="1184" width="1.5" height="54" opacity="0.50"/><rect x="624.04" y="1184" width="1.5" height="48" opacity="0.32"/><rect x="628.38" y="1184" width="1.5" height="55" opacity="0.53"/><rect x="632.72" y="1182" width="1.5" height="63" opacity="0.44"/><rect x="637.06" y="1183" width="1.5" height="57" opacity="0.68"/><rect x="641.40" y="1185" width="1.5" height="51" opacity="0.94"/><rect x="645.75" y="1181" width="1.5" height="58" opacity="0.62"/><rect x="650.09" y="1186" width="1.5" height="53" opacity="0.49"/><rect x="654.43" y="1186" width="1.5" height="54" opacity="0.44"/><rect x="658.77" y="1182" width="1.5" height="52" opacity="1.00"/><rect x="663.11" y="1188" width="1.5" height="56" opacity="0.90"/><rect x="667.45" y="1184" width="1.5" height="49" opacity="1.00"/><rect x="671.79" y="1186" width="1.5" height="47" opacity="0.57"/><rect x="676.13" y="1181" width="1.5" height="51" opacity="0.71"/><rect x="680.47" y="1184" width="1.5" height="51" opacity="0.47"/><rect x="684.81" y="1186" width="1.5" height="48" opacity="0.70"/><rect x="689.15" y="1187" width="1.5" height="53" opacity="0.59"/><rect x="693.50" y="1184" width="1.5" height="51" opacity="0.38"/><rect x="697.84" y="1180" width="1.5" height="64" opacity="1.00"/><rect x="702.18" y="1181" width="1.5" height="53" opacity="0.50"/><rect x="706.52" y="1183" width="1.5" height="61" opacity="0.44"/><rect x="710.86" y="1186" width="1.5" height="50" opacity="0.78"/><rect x="715.20" y="1188" width="1.5" height="44" opacity="0.42"/><rect x="719.54" y="1180" width="1.5" height="58" opacity="1.00"/><rect x="723.88" y="1185" width="1.5" height="55" opacity="0.57"/><rect x="728.22" y="1183" width="1.5" height="51" opacity="0.70"/><rect x="732.57" y="1187" width="1.5" height="54" opacity="0.78"/><rect x="736.91" y="1185" width="1.5" height="51" opacity="0.56"/><rect x="741.25" y="1181" width="1.5" height="54" opacity="0.73"/><rect x="745.59" y="1180" width="1.5" height="63" opacity="0.66"/><rect x="749.93" y="1182" width="1.5" height="55" opacity="0.51"/><rect x="754.27" y="1187" width="1.5" height="58" opacity="0.74"/><rect x="758.61" y="1187" width="1.5" height="54" opacity="0.91"/><rect x="762.95" y="1186" width="1.5" height="59" opacity="0.42"/><rect x="767.29" y="1185" width="1.5" height="51" opacity="0.45"/><rect x="771.63" y="1188" width="1.5" height="48" opacity="0.77"/><rect x="775.98" y="1187" width="1.5" height="49" opacity="0.31"/><rect x="780.32" y="1180" width="1.5" height="61" opacity="0.54"/><rect x="784.66" y="1183" width="1.5" height="56" opacity="0.53"/><rect x="789.00" y="1187" width="1.5" height="53" opacity="0.72"/><rect x="793.34" y="1183" width="1.5" height="60" opacity="0.86"/><rect x="797.68" y="1183" width="1.5" height="61" opacity="1.00"/><rect x="802.02" y="1180" width="1.5" height="54" opacity="0.77"/><rect x="806.36" y="1186" width="1.5" height="57" opacity="0.52"/><rect x="810.70" y="1182" width="1.5" height="63" opacity="0.70"/><rect x="815.04" y="1181" width="1.5" height="56" opacity="0.36"/><rect x="819.39" y="1182" width="1.5" height="58" opacity="1.00"/><rect x="823.73" y="1184" width="1.5" height="50" opacity="1.00"/><rect x="828.07" y="1184" width="1.5" height="52" opacity="0.73"/><rect x="832.41" y="1184" width="1.5" height="48" opacity="0.78"/><rect x="836.75" y="1183" width="1.5" height="60" opacity="0.88"/><rect x="841.09" y="1187" width="1.5" height="54" opacity="0.99"/><rect x="845.43" y="1186" width="1.5" height="55" opacity="0.50"/><rect x="849.77" y="1186" width="1.5" height="58" opacity="0.51"/><rect x="854.11" y="1185" width="1.5" height="47" opacity="0.98"/><rect x="858.45" y="1186" width="1.5" height="51" opacity="1.00"/><rect x="862.80" y="1181" width="1.5" height="59" opacity="0.62"/><rect x="867.14" y="1186" width="1.5" height="46" opacity="0.90"/><rect x="871.48" y="1180" width="1.5" height="59" opacity="0.65"/><rect x="875.82" y="1181" width="1.5" height="55" opacity="0.82"/><rect x="880.16" y="1183" width="1.5" height="50" opacity="0.49"/><rect x="884.50" y="1181" width="1.5" height="59" opacity="0.58"/><rect x="888.84" y="1183" width="1.5" height="55" opacity="0.94"/><rect x="893.18" y="1183" width="1.5" height="54" opacity="0.77"/><rect x="897.52" y="1184" width="1.5" height="59" opacity="0.65"/><rect x="901.86" y="1183" width="1.5" height="57" opacity="0.77"/><rect x="906.21" y="1186" width="1.5" height="58" opacity="0.64"/><rect x="910.55" y="1185" width="1.5" height="58" opacity="0.72"/><rect x="914.89" y="1181" width="1.5" height="57" opacity="0.46"/><rect x="919.23" y="1180" width="1.5" height="58" opacity="0.90"/><rect x="923.57" y="1186" width="1.5" height="50" opacity="0.89"/><rect x="927.91" y="1188" width="1.5" height="52" opacity="0.60"/><rect x="932.25" y="1186" width="1.5" height="55" opacity="0.67"/><rect x="936.59" y="1188" width="1.5" height="44" opacity="0.38"/><rect x="940.93" y="1188" width="1.5" height="56" opacity="0.57"/><rect x="945.27" y="1184" width="1.5" height="55" opacity="0.49"/><rect x="949.62" y="1183" width="1.5" height="57" opacity="0.61"/><rect x="953.96" y="1180" width="1.5" height="55" opacity="0.59"/><rect x="958.30" y="1185" width="1.5" height="58" opacity="0.69"/><rect x="962.64" y="1187" width="1.5" height="55" opacity="0.79"/><rect x="966.98" y="1184" width="1.5" height="60" opacity="1.00"/><rect x="971.32" y="1186" width="1.5" height="55" opacity="0.78"/><rect x="975.66" y="1182" width="1.5" height="62" opacity="0.78"/><rect x="980.00" y="1182" width="1.5" height="54" opacity="1.00"/><rect x="984.34" y="1181" width="1.5" height="64" opacity="1.00"/><rect x="988.68" y="1188" width="1.5" height="52" opacity="0.76"/><rect x="993.03" y="1185" width="1.5" height="60" opacity="0.55"/><rect x="997.37" y="1181" width="1.5" height="55" opacity="1.00"/><rect x="1001.71" y="1182" width="1.5" height="58" opacity="0.70"/><rect x="1006.05" y="1182" width="1.5" height="51" opacity="0.84"/><rect x="1010.39" y="1187" width="1.5" height="47" opacity="0.48"/><rect x="1014.73" y="1181" width="1.5" height="59" opacity="0.77"/><rect x="1019.07" y="1183" width="1.5" height="58" opacity="0.39"/><rect x="1023.41" y="1187" width="1.5" height="57" opacity="1.00"/><rect x="1027.75" y="1181" width="1.5" height="55" opacity="0.77"/><rect x="1032.09" y="1186" width="1.5" height="52" opacity="0.81"/><rect x="1036.43" y="1188" width="1.5" height="50" opacity="0.84"/><rect x="1040.78" y="1188" width="1.5" height="48" opacity="0.68"/><rect x="1045.12" y="1183" width="1.5" height="53" opacity="0.90"/><rect x="1049.46" y="1186" width="1.5" height="54" opacity="0.73"/><rect x="1053.80" y="1182" width="1.5" height="56" opacity="0.67"/><rect x="1058.14" y="1186" width="1.5" height="52" opacity="0.95"/><rect x="1062.48" y="1183" width="1.5" height="54" opacity="1.00"/><rect x="1066.82" y="1180" width="1.5" height="62" opacity="0.77"/><rect x="1071.16" y="1185" width="1.5" height="54" opacity="1.00"/><rect x="1075.50" y="1185" width="1.5" height="49" opacity="0.97"/><rect x="1079.85" y="1182" width="1.5" height="61" opacity="0.70"/><rect x="1084.19" y="1183" width="1.5" height="57" opacity="0.46"/><rect x="1088.53" y="1180" width="1.5" height="61" opacity="0.68"/><rect x="1092.87" y="1185" width="1.5" height="54" opacity="0.81"/><rect x="1097.21" y="1188" width="1.5" height="50" opacity="0.79"/><rect x="1101.55" y="1182" width="1.5" height="63" opacity="0.93"/><rect x="1105.89" y="1186" width="1.5" height="49" opacity="0.77"/><rect x="1110.23" y="1185" width="1.5" height="53" opacity="0.97"/><rect x="1114.57" y="1186" width="1.5" height="59" opacity="0.80"/><rect x="1118.91" y="1181" width="1.5" height="55" opacity="1.00"/><rect x="1123.26" y="1181" width="1.5" height="56" opacity="0.69"/><rect x="1127.60" y="1180" width="1.5" height="65" opacity="0.52"/><rect x="1131.94" y="1180" width="1.5" height="54" opacity="0.95"/><rect x="1136.28" y="1182" width="1.5" height="60" opacity="1.00"/><rect x="1140.62" y="1188" width="1.5" height="57" opacity="0.69"/><rect x="1144.96" y="1184" width="1.5" height="50" opacity="0.77"/><rect x="1149.30" y="1188" width="1.5" height="53" opacity="0.97"/><rect x="1153.64" y="1183" width="1.5" height="54" opacity="0.55"/><rect x="1157.98" y="1184" width="1.5" height="48" opacity="0.50"/><rect x="1162.32" y="1182" width="1.5" height="58" opacity="0.88"/><rect x="1166.66" y="1186" width="1.5" height="55" opacity="0.72"/><rect x="1171.01" y="1182" width="1.5" height="52" opacity="1.00"/><rect x="1175.35" y="1185" width="1.5" height="49" opacity="1.00"/><rect x="1179.69" y="1184" width="1.5" height="61" opacity="0.89"/><rect x="1184.03" y="1187" width="1.5" height="54" opacity="0.83"/><rect x="1188.37" y="1181" width="1.5" height="55" opacity="0.85"/><rect x="1192.71" y="1186" width="1.5" height="57" opacity="0.86"/><rect x="1197.05" y="1187" width="1.5" height="58" opacity="0.92"/><rect x="1201.39" y="1181" width="1.5" height="61" opacity="0.79"/><rect x="1205.73" y="1184" width="1.5" height="57" opacity="0.82"/><rect x="1210.08" y="1183" width="1.5" height="52" opacity="1.00"/><rect x="1214.42" y="1183" width="1.5" height="50" opacity="0.82"/><rect x="1218.76" y="1180" width="1.5" height="59" opacity="0.89"/><rect x="1223.10" y="1181" width="1.5" height="61" opacity="0.84"/><rect x="1227.44" y="1188" width="1.5" height="55" opacity="1.00"/><rect x="1231.78" y="1188" width="1.5" height="52" opacity="1.00"/><rect x="1236.12" y="1181" width="1.5" height="52" opacity="0.80"/><rect x="1240.46" y="1185" width="1.5" height="56" opacity="0.95"/><rect x="1244.80" y="1187" width="1.5" height="49" opacity="0.83"/><rect x="1249.14" y="1185" width="1.5" height="60" opacity="0.89"/><rect x="1253.48" y="1183" width="1.5" height="56" opacity="1.00"/><rect x="1257.83" y="1188" width="1.5" height="52" opacity="0.85"/><rect x="1262.17" y="1183" width="1.5" height="51" opacity="0.78"/><rect x="1266.51" y="1180" width="1.5" height="54" opacity="0.74"/><rect x="1270.85" y="1188" width="1.5" height="56" opacity="0.80"/><rect x="1275.19" y="1185" width="1.5" height="50" opacity="1.00"/><rect x="1279.53" y="1184" width="1.5" height="49" opacity="0.85"/><rect x="1283.87" y="1188" width="1.5" height="54" opacity="1.00"/><rect x="1288.21" y="1185" width="1.5" height="58" opacity="0.65"/><rect x="1292.55" y="1182" width="1.5" height="61" opacity="0.80"/><rect x="1296.89" y="1183" width="1.5" height="49" opacity="0.51"/><rect x="1301.24" y="1184" width="1.5" height="56" opacity="1.00"/><rect x="1305.58" y="1186" width="1.5" height="53" opacity="0.95"/><rect x="1309.92" y="1185" width="1.5" height="51" opacity="0.95"/><rect x="1314.26" y="1186" width="1.5" height="46" opacity="0.98"/><rect x="1318.60" y="1188" width="1.5" height="54" opacity="0.71"/><rect x="1322.94" y="1180" width="1.5" height="55" opacity="1.00"/><rect x="1327.28" y="1187" width="1.5" height="52" opacity="1.00"/><rect x="1331.62" y="1185" width="1.5" height="58" opacity="1.00"/><rect x="1335.96" y="1181" width="1.5" height="59" opacity="1.00"/></g><g fill="url(#gB)"><rect x="233.15" y="1257" width="1.9" height="155" opacity="1.00"/><rect x="237.49" y="1256" width="1.9" height="156" opacity="0.81"/><rect x="241.83" y="1259" width="1.9" height="153" opacity="0.94"/><rect x="246.17" y="1242" width="1.9" height="170" opacity="0.81"/><rect x="250.51" y="1245" width="1.9" height="167" opacity="0.89"/><rect x="254.86" y="1242" width="1.9" height="170" opacity="1.00"/><rect x="259.20" y="1253" width="1.9" height="159" opacity="1.00"/><rect x="263.54" y="1243" width="1.9" height="169" opacity="0.74"/><rect x="267.88" y="1258" width="1.9" height="154" opacity="1.00"/><rect x="272.22" y="1264" width="1.9" height="148" opacity="0.75"/><rect x="276.56" y="1255" width="1.9" height="157" opacity="0.99"/><rect x="280.90" y="1258" width="1.9" height="154" opacity="0.94"/><rect x="285.24" y="1248" width="1.9" height="164" opacity="0.89"/><rect x="289.58" y="1240" width="1.9" height="172" opacity="1.00"/><rect x="293.92" y="1255" width="1.9" height="157" opacity="0.95"/><rect x="298.27" y="1252" width="1.9" height="160" opacity="0.97"/><rect x="302.61" y="1251" width="1.9" height="161" opacity="0.71"/><rect x="306.95" y="1247" width="1.9" height="165" opacity="0.96"/><rect x="311.29" y="1257" width="1.9" height="155" opacity="0.70"/><rect x="315.63" y="1245" width="1.9" height="167" opacity="0.98"/><rect x="319.97" y="1250" width="1.9" height="162" opacity="0.77"/><rect x="324.31" y="1246" width="1.9" height="166" opacity="0.88"/><rect x="328.65" y="1243" width="1.9" height="169" opacity="0.80"/><rect x="332.99" y="1259" width="1.9" height="153" opacity="0.68"/><rect x="337.33" y="1247" width="1.9" height="165" opacity="0.90"/><rect x="341.68" y="1240" width="1.9" height="172" opacity="1.00"/><rect x="346.02" y="1257" width="1.9" height="155" opacity="1.00"/><rect x="350.36" y="1267" width="1.9" height="145" opacity="0.86"/><rect x="354.70" y="1244" width="1.9" height="168" opacity="0.94"/><rect x="359.04" y="1255" width="1.9" height="157" opacity="1.00"/><rect x="363.38" y="1244" width="1.9" height="168" opacity="0.89"/><rect x="367.72" y="1253" width="1.9" height="159" opacity="1.00"/><rect x="372.06" y="1267" width="1.9" height="145" opacity="1.00"/><rect x="376.40" y="1265" width="1.9" height="147" opacity="1.00"/><rect x="380.74" y="1264" width="1.9" height="148" opacity="0.80"/><rect x="385.08" y="1251" width="1.9" height="161" opacity="0.91"/><rect x="389.43" y="1263" width="1.9" height="149" opacity="0.97"/><rect x="393.77" y="1259" width="1.9" height="153" opacity="0.76"/><rect x="398.11" y="1240" width="1.9" height="172" opacity="0.87"/><rect x="402.45" y="1264" width="1.9" height="148" opacity="1.00"/><rect x="406.79" y="1242" width="1.9" height="170" opacity="0.95"/><rect x="411.13" y="1261" width="1.9" height="151" opacity="0.99"/><rect x="415.47" y="1267" width="1.9" height="145" opacity="0.73"/><rect x="419.81" y="1244" width="1.9" height="168" opacity="0.64"/><rect x="424.15" y="1252" width="1.9" height="160" opacity="1.00"/><rect x="428.50" y="1267" width="1.9" height="145" opacity="0.78"/><rect x="432.84" y="1245" width="1.9" height="167" opacity="0.89"/><rect x="437.18" y="1266" width="1.9" height="146" opacity="0.82"/><rect x="441.52" y="1247" width="1.9" height="165" opacity="0.89"/><rect x="445.86" y="1241" width="1.9" height="171" opacity="1.00"/><rect x="450.20" y="1261" width="1.9" height="151" opacity="0.93"/><rect x="454.54" y="1264" width="1.9" height="148" opacity="0.98"/><rect x="458.88" y="1259" width="1.9" height="153" opacity="0.65"/><rect x="463.22" y="1259" width="1.9" height="153" opacity="0.99"/><rect x="467.56" y="1243" width="1.9" height="169" opacity="0.88"/><rect x="471.91" y="1251" width="1.9" height="161" opacity="0.93"/><rect x="476.25" y="1267" width="1.9" height="145" opacity="0.98"/><rect x="480.59" y="1267" width="1.9" height="145" opacity="0.83"/><rect x="484.93" y="1258" width="1.9" height="154" opacity="0.99"/><rect x="489.27" y="1241" width="1.9" height="171" opacity="1.00"/><rect x="493.61" y="1257" width="1.9" height="155" opacity="0.95"/><rect x="497.95" y="1259" width="1.9" height="153" opacity="0.76"/><rect x="502.29" y="1266" width="1.9" height="146" opacity="0.83"/><rect x="506.63" y="1267" width="1.9" height="145" opacity="0.94"/><rect x="510.97" y="1260" width="1.9" height="152" opacity="1.00"/><rect x="515.31" y="1262" width="1.9" height="150" opacity="0.94"/><rect x="519.66" y="1252" width="1.9" height="160" opacity="0.79"/><rect x="524.00" y="1258" width="1.9" height="154" opacity="1.00"/><rect x="528.34" y="1249" width="1.9" height="163" opacity="0.91"/><rect x="532.68" y="1245" width="1.9" height="167" opacity="1.00"/><rect x="537.02" y="1267" width="1.9" height="145" opacity="1.00"/><rect x="541.36" y="1263" width="1.9" height="149" opacity="0.92"/><rect x="545.70" y="1261" width="1.9" height="151" opacity="0.79"/><rect x="550.04" y="1253" width="1.9" height="159" opacity="0.92"/><rect x="554.38" y="1246" width="1.9" height="166" opacity="0.63"/><rect x="558.72" y="1252" width="1.9" height="160" opacity="0.90"/><rect x="563.07" y="1242" width="1.9" height="170" opacity="0.99"/><rect x="567.41" y="1244" width="1.9" height="168" opacity="0.85"/><rect x="571.75" y="1253" width="1.9" height="159" opacity="1.00"/><rect x="576.09" y="1267" width="1.9" height="145" opacity="1.00"/><rect x="580.43" y="1261" width="1.9" height="151" opacity="1.00"/><rect x="584.77" y="1260" width="1.9" height="152" opacity="0.87"/><rect x="589.11" y="1253" width="1.9" height="159" opacity="1.00"/><rect x="593.45" y="1245" width="1.9" height="167" opacity="0.78"/><rect x="597.79" y="1265" width="1.9" height="147" opacity="0.80"/><rect x="602.13" y="1241" width="1.9" height="171" opacity="0.74"/><rect x="606.48" y="1251" width="1.9" height="161" opacity="0.88"/><rect x="610.82" y="1260" width="1.9" height="152" opacity="0.94"/><rect x="615.16" y="1256" width="1.9" height="156" opacity="0.93"/><rect x="619.50" y="1250" width="1.9" height="162" opacity="1.00"/><rect x="623.84" y="1258" width="1.9" height="154" opacity="0.70"/><rect x="628.18" y="1246" width="1.9" height="166" opacity="0.99"/><rect x="632.52" y="1255" width="1.9" height="157" opacity="0.87"/><rect x="636.86" y="1263" width="1.9" height="149" opacity="0.81"/><rect x="641.20" y="1266" width="1.9" height="146" opacity="0.96"/><rect x="645.54" y="1243" width="1.9" height="169" opacity="1.00"/><rect x="649.89" y="1256" width="1.9" height="156" opacity="0.99"/><rect x="654.23" y="1241" width="1.9" height="171" opacity="1.00"/><rect x="658.57" y="1247" width="1.9" height="165" opacity="0.84"/><rect x="662.91" y="1241" width="1.9" height="171" opacity="0.97"/><rect x="667.25" y="1267" width="1.9" height="145" opacity="0.81"/><rect x="671.59" y="1244" width="1.9" height="168" opacity="0.94"/><rect x="675.93" y="1249" width="1.9" height="163" opacity="1.00"/><rect x="680.27" y="1250" width="1.9" height="162" opacity="1.00"/><rect x="684.61" y="1246" width="1.9" height="166" opacity="0.91"/><rect x="688.95" y="1258" width="1.9" height="154" opacity="0.89"/><rect x="693.30" y="1257" width="1.9" height="155" opacity="0.81"/><rect x="697.64" y="1241" width="1.9" height="171" opacity="0.99"/><rect x="701.98" y="1258" width="1.9" height="154" opacity="1.00"/><rect x="706.32" y="1259" width="1.9" height="153" opacity="0.77"/><rect x="710.66" y="1243" width="1.9" height="169" opacity="0.91"/><rect x="715.00" y="1252" width="1.9" height="160" opacity="0.75"/><rect x="719.34" y="1260" width="1.9" height="152" opacity="0.86"/><rect x="723.68" y="1256" width="1.9" height="156" opacity="0.96"/><rect x="728.02" y="1254" width="1.9" height="158" opacity="1.00"/><rect x="732.37" y="1251" width="1.9" height="161" opacity="1.00"/><rect x="736.71" y="1248" width="1.9" height="164" opacity="0.80"/><rect x="741.05" y="1253" width="1.9" height="159" opacity="1.00"/><rect x="745.39" y="1256" width="1.9" height="156" opacity="0.77"/><rect x="749.73" y="1245" width="1.9" height="167" opacity="0.85"/><rect x="754.07" y="1247" width="1.9" height="165" opacity="0.71"/><rect x="758.41" y="1247" width="1.9" height="165" opacity="1.00"/><rect x="762.75" y="1266" width="1.9" height="146" opacity="0.91"/><rect x="767.09" y="1250" width="1.9" height="162" opacity="0.86"/><rect x="771.43" y="1248" width="1.9" height="164" opacity="0.89"/><rect x="775.77" y="1258" width="1.9" height="154" opacity="1.00"/><rect x="780.12" y="1261" width="1.9" height="151" opacity="1.00"/><rect x="784.46" y="1261" width="1.9" height="151" opacity="1.00"/><rect x="788.80" y="1246" width="1.9" height="166" opacity="0.73"/><rect x="793.14" y="1267" width="1.9" height="145" opacity="1.00"/><rect x="797.48" y="1257" width="1.9" height="155" opacity="0.76"/><rect x="801.82" y="1247" width="1.9" height="165" opacity="1.00"/><rect x="806.16" y="1246" width="1.9" height="166" opacity="0.89"/><rect x="810.50" y="1267" width="1.9" height="145" opacity="0.78"/><rect x="814.84" y="1253" width="1.9" height="159" opacity="0.86"/><rect x="819.19" y="1256" width="1.9" height="156" opacity="1.00"/><rect x="823.53" y="1249" width="1.9" height="163" opacity="0.76"/><rect x="827.87" y="1249" width="1.9" height="163" opacity="0.96"/><rect x="832.21" y="1260" width="1.9" height="152" opacity="0.87"/><rect x="836.55" y="1260" width="1.9" height="152" opacity="0.97"/><rect x="840.89" y="1256" width="1.9" height="156" opacity="0.93"/><rect x="845.23" y="1242" width="1.9" height="170" opacity="0.89"/><rect x="849.57" y="1250" width="1.9" height="162" opacity="0.93"/><rect x="853.91" y="1255" width="1.9" height="157" opacity="0.90"/><rect x="858.25" y="1252" width="1.9" height="160" opacity="1.00"/><rect x="862.60" y="1252" width="1.9" height="160" opacity="0.93"/><rect x="866.94" y="1263" width="1.9" height="149" opacity="0.95"/><rect x="871.28" y="1251" width="1.9" height="161" opacity="0.91"/><rect x="875.62" y="1267" width="1.9" height="145" opacity="0.67"/><rect x="879.96" y="1256" width="1.9" height="156" opacity="0.88"/><rect x="884.30" y="1246" width="1.9" height="166" opacity="0.87"/><rect x="888.64" y="1261" width="1.9" height="151" opacity="0.92"/><rect x="892.98" y="1245" width="1.9" height="167" opacity="0.82"/><rect x="897.32" y="1260" width="1.9" height="152" opacity="0.69"/><rect x="901.66" y="1250" width="1.9" height="162" opacity="0.81"/><rect x="906.00" y="1264" width="1.9" height="148" opacity="0.88"/><rect x="910.35" y="1240" width="1.9" height="172" opacity="1.00"/><rect x="914.69" y="1248" width="1.9" height="164" opacity="0.74"/><rect x="919.03" y="1255" width="1.9" height="157" opacity="0.94"/><rect x="923.37" y="1260" width="1.9" height="152" opacity="0.85"/><rect x="927.71" y="1262" width="1.9" height="150" opacity="1.00"/><rect x="932.05" y="1249" width="1.9" height="163" opacity="0.97"/><rect x="936.39" y="1257" width="1.9" height="155" opacity="0.97"/><rect x="940.73" y="1244" width="1.9" height="168" opacity="0.84"/><rect x="945.07" y="1255" width="1.9" height="157" opacity="1.00"/><rect x="949.41" y="1261" width="1.9" height="151" opacity="0.85"/><rect x="953.76" y="1266" width="1.9" height="146" opacity="0.87"/><rect x="958.10" y="1264" width="1.9" height="148" opacity="1.00"/><rect x="962.44" y="1263" width="1.9" height="149" opacity="0.73"/><rect x="966.78" y="1255" width="1.9" height="157" opacity="0.93"/><rect x="971.12" y="1251" width="1.9" height="161" opacity="0.94"/><rect x="975.46" y="1255" width="1.9" height="157" opacity="0.79"/><rect x="979.80" y="1249" width="1.9" height="163" opacity="1.00"/><rect x="984.14" y="1261" width="1.9" height="151" opacity="0.94"/><rect x="988.48" y="1252" width="1.9" height="160" opacity="0.86"/><rect x="992.83" y="1261" width="1.9" height="151" opacity="0.88"/><rect x="997.17" y="1257" width="1.9" height="155" opacity="0.61"/><rect x="1001.51" y="1243" width="1.9" height="169" opacity="0.89"/><rect x="1005.85" y="1246" width="1.9" height="166" opacity="0.74"/><rect x="1010.19" y="1242" width="1.9" height="170" opacity="0.90"/><rect x="1014.53" y="1244" width="1.9" height="168" opacity="0.98"/><rect x="1018.87" y="1254" width="1.9" height="158" opacity="1.00"/><rect x="1023.21" y="1246" width="1.9" height="166" opacity="0.84"/><rect x="1027.55" y="1255" width="1.9" height="157" opacity="1.00"/><rect x="1031.89" y="1258" width="1.9" height="154" opacity="0.92"/><rect x="1036.23" y="1257" width="1.9" height="155" opacity="0.56"/><rect x="1040.58" y="1250" width="1.9" height="162" opacity="0.95"/><rect x="1044.92" y="1241" width="1.9" height="171" opacity="0.85"/><rect x="1049.26" y="1262" width="1.9" height="150" opacity="1.00"/><rect x="1053.60" y="1242" width="1.9" height="170" opacity="0.90"/><rect x="1057.94" y="1240" width="1.9" height="172" opacity="1.00"/><rect x="1062.28" y="1242" width="1.9" height="170" opacity="0.83"/><rect x="1066.62" y="1258" width="1.9" height="154" opacity="0.90"/><rect x="1070.96" y="1257" width="1.9" height="155" opacity="1.00"/><rect x="1075.30" y="1252" width="1.9" height="160" opacity="0.98"/><rect x="1079.64" y="1264" width="1.9" height="148" opacity="0.82"/><rect x="1083.99" y="1266" width="1.9" height="146" opacity="0.87"/><rect x="1088.33" y="1258" width="1.9" height="154" opacity="0.98"/><rect x="1092.67" y="1244" width="1.9" height="168" opacity="1.00"/><rect x="1097.01" y="1263" width="1.9" height="149" opacity="0.95"/><rect x="1101.35" y="1265" width="1.9" height="147" opacity="0.86"/><rect x="1105.69" y="1265" width="1.9" height="147" opacity="1.00"/><rect x="1110.03" y="1259" width="1.9" height="153" opacity="0.85"/><rect x="1114.37" y="1257" width="1.9" height="155" opacity="0.58"/><rect x="1118.71" y="1240" width="1.9" height="172" opacity="0.89"/><rect x="1123.06" y="1251" width="1.9" height="161" opacity="0.96"/><rect x="1127.40" y="1256" width="1.9" height="156" opacity="0.91"/><rect x="1131.74" y="1263" width="1.9" height="149" opacity="0.90"/><rect x="1136.08" y="1267" width="1.9" height="145" opacity="0.77"/><rect x="1140.42" y="1241" width="1.9" height="171" opacity="0.80"/><rect x="1144.76" y="1267" width="1.9" height="145" opacity="0.82"/><rect x="1149.10" y="1256" width="1.9" height="156" opacity="0.98"/><rect x="1153.44" y="1255" width="1.9" height="157" opacity="0.89"/><rect x="1157.78" y="1252" width="1.9" height="160" opacity="1.00"/><rect x="1162.12" y="1248" width="1.9" height="164" opacity="0.99"/><rect x="1166.46" y="1255" width="1.9" height="157" opacity="0.94"/><rect x="1170.81" y="1250" width="1.9" height="162" opacity="0.89"/><rect x="1175.15" y="1263" width="1.9" height="149" opacity="0.74"/><rect x="1179.49" y="1251" width="1.9" height="161" opacity="0.99"/><rect x="1183.83" y="1256" width="1.9" height="156" opacity="0.95"/><rect x="1188.17" y="1263" width="1.9" height="149" opacity="0.79"/><rect x="1192.51" y="1265" width="1.9" height="147" opacity="1.00"/><rect x="1196.85" y="1240" width="1.9" height="172" opacity="0.85"/><rect x="1201.19" y="1240" width="1.9" height="172" opacity="0.92"/><rect x="1205.53" y="1253" width="1.9" height="159" opacity="1.00"/><rect x="1209.88" y="1265" width="1.9" height="147" opacity="0.66"/><rect x="1214.22" y="1265" width="1.9" height="147" opacity="1.00"/><rect x="1218.56" y="1247" width="1.9" height="165" opacity="1.00"/><rect x="1222.90" y="1263" width="1.9" height="149" opacity="0.88"/><rect x="1227.24" y="1258" width="1.9" height="154" opacity="0.96"/><rect x="1231.58" y="1266" width="1.9" height="146" opacity="0.91"/><rect x="1235.92" y="1258" width="1.9" height="154" opacity="0.93"/><rect x="1240.26" y="1248" width="1.9" height="164" opacity="0.91"/><rect x="1244.60" y="1243" width="1.9" height="169" opacity="0.93"/><rect x="1248.94" y="1250" width="1.9" height="162" opacity="1.00"/><rect x="1253.28" y="1246" width="1.9" height="166" opacity="0.87"/><rect x="1257.63" y="1249" width="1.9" height="163" opacity="0.76"/><rect x="1261.97" y="1255" width="1.9" height="157" opacity="0.81"/><rect x="1266.31" y="1244" width="1.9" height="168" opacity="0.95"/><rect x="1270.65" y="1260" width="1.9" height="152" opacity="0.96"/><rect x="1274.99" y="1258" width="1.9" height="154" opacity="0.85"/><rect x="1279.33" y="1241" width="1.9" height="171" opacity="0.95"/><rect x="1283.67" y="1258" width="1.9" height="154" opacity="1.00"/><rect x="1288.01" y="1241" width="1.9" height="171" opacity="0.95"/><rect x="1292.35" y="1254" width="1.9" height="158" opacity="0.88"/><rect x="1296.69" y="1241" width="1.9" height="171" opacity="0.98"/><rect x="1301.04" y="1258" width="1.9" height="154" opacity="0.81"/><rect x="1305.38" y="1253" width="1.9" height="159" opacity="1.00"/><rect x="1309.72" y="1241" width="1.9" height="171" opacity="0.73"/><rect x="1314.06" y="1257" width="1.9" height="155" opacity="0.91"/><rect x="1318.40" y="1253" width="1.9" height="159" opacity="0.64"/><rect x="1322.74" y="1246" width="1.9" height="166" opacity="0.88"/><rect x="1327.08" y="1243" width="1.9" height="169" opacity="1.00"/><rect x="1331.42" y="1243" width="1.9" height="169" opacity="0.96"/><rect x="1335.76" y="1252" width="1.9" height="160" opacity="1.00"/></g>
<path d="M232,432H233V447H234V441H235V430H236V443H237V435H238V444H239V440H240V444H241V442H242H243V448H244V446H245V442H246V446H247V437H248V440H249V446H250V435H251V438H252V436H253V449H254V447H255V446H256V447H257V442H258V432H259V440H260V448H261V435H262V444H263V443H264V439H265V441H266V435H267V444H268V445H269V446H270V445H271V442H272V447H273V435H274V439H275H276V431H277V441H278V439H279V444H280V434H281V435H282V439H283V444H284V440H285V444H286V446H287V444H288V441H289V438H290V444H291V446H292V444H293V441H294V440H295V444H296V436H297V443H298V442H299V439H300V437H301V444H302V451H303V442H304V448H305V443H306V438H307V443H308V439H309V444H310V448H311V444H312V437H313V444H314V430H315V444H316V438H317V437H318V444H319V439H320V435H321V445H322V446H323H324V443H325V437H326V445H327V433H328V440H329V443H330V441H331V433H332V447H333V443H334V444H335V433H336V441H337V444H338V447H339V436H340V447H341V443H342V440H343V443H344V440H345V443H346V442H347V443H348H349V438H350V443H351V445H352V446H353H354V439H355V445H356V436H357V448H358V445H359V440H360V442H361V450H362V440H363V432H364V444H365V436H366V441H367V445H368V430H369V435H370V438H371V450H372V439H373V441H374V442H375V434H376V444H377V445H378V440H379V441H380V438H381V444H382V440H383V439H384V430H385V425H386V438H387V444H388V443H389V445H390V444H391V446H392V439H393V446H394V438H395V444H396V443H397V432H398V441H399V449H400V438H401V442H402V439H403V443H404V441H405V438H406V442H407V446H408V439H409V444H410V445H411V441H412V444H413V438H414V440H415V432H416V448H417V441H418V446H419V437H420V450H421V444H422V445H423V441H424V448H425V440H426V448H427V444H428V439H429V444H430V443H431V441H432V447H433V446H434V443H435V444H436V445H437V428H438V451H439V446H440V447H441V444H442V437H443V442H444V435H445V449H446V429H447V438H448V437H449V445H450V449H451V441H452V449H453V428H454V449H455V446H456H457V450H458H459V446H460V447H461V445H462V444H463V441H464V444H465V445H466H467V443H468V447H469V441H470V442H471V441H472V446H473V445H474V441H475V449H476V446H477V445H478V448H479V442H480V429H481V436H482V449H483V442H484V444H485V429H486V441H487V438H488V448H489V442H490V446H491V445H492V444H493V443H494V447H495V442H496V448H497V450H498V448H499V440H500V434H501V451H502V449H503V450H504V451H505V439H506V443H507V441H508V442H509V448H510V447H511V446H512V445H513V450H514V446H515V447H516V445H517V438H518V437H519V446H520V450H521V433H522V449H523V438H524V451H525V446H526V448H527H528V445H529V444H530V441H531V445H532V434H533V443H534V444H535V440H536V436H537V448H538V436H539V438H540V444H541V445H542V446H543V442H544V445H545H546V439H547V438H548V426H549V447H550V444H551V451H552V429H553V447H554V449H555V446H556V448H557V447H558H559V444H560V448H561V452H562V437H563V440H564V446H565V443H566H567V444H568V443H569V450H570V449H571V445H572V442H573V445H574V451H575H576V446H577V441H578V445H579V446H580V448H581V449H582V445H583V441H584V449H585V446H586V435H587V441H588V438H589V444H590V441H591V445H592V446H593V441H594V444H595V447H596V444H597V434H598V450H599V446H600V444H601V437H602V446H603V449H604V450H605V445H606V448H607V451H608V449H609V435H610V447H611V446H612V449H613V446H614V445H615V449H616V443H617V439H618V445H619V448H620V447H621V434H622V444H623V441H624V440H625V446H626V444H627V447H628V448H629V446H630H631V444H632V430H633V441H634V438H635V448H636V447H637V435H638V448H639V446H640V452H641V439H642V442H643H644V450H645H646V448H647V441H648V452H649H650V444H651V443H652V445H653H654V448H655V449H656H657V447H658V438H659V444H660V443H661V430H662V446H663V445H664V440H665V444H666V448H667V449H668V447H669V449H670V450H671V448H672V449H673V440H674V449H675V446H676V443H677V449H678V450H679V445H680V449H681V448H682V452H683V430H684V451H685V444H686V433H687V450H688V426H689V449H690V447H691V446H692V448H693V447H694V449H695V442H696V448H697V446H698H699V444H700V450H701V441H702V449H703V444H704V441H705V450H706H707V443H708V445H709V452H710V451H711V439H712V442H713V447H714V443H715V447H716V453H717V447H718H719V439H720V448H721V444H722V430H723V446H724V443H725H726V438H727V435H728V438H729V447H730V436H731V453H732V452H733V443H734V444H735V446H736V441H737V439H738V426H739V442H740H741V443H742V445H743V447H744V450H745V445H746V448H747V453H748V437H749V445H750V444H751V442H752V447H753H754V429H755V449H756V447H757V438H758V450H759V452H760V451H761V452H762V451H763V456H764V454H765V446H766V445H767H768V447H769V448H770V442H771V445H772V443H773V439H774V445H775V435H776V444H777V439H778V444H779V436H780V444H781V450H782V446H783V450H784V443H785V426H786V442H787V448H788H789V440H790V451H791V444H792V449H793V451H794V440H795V451H796V450H797V448H798V452H799V444H800V434H801V456H802V443H803V450H804V448H805V449H806V450H807H808V445H809V452H810V438H811V444H812V452H813V454H814V449H815V451H816V452H817V446H818V454H819V451H820V452H821V446H822V440H823V449H824H825V450H826V448H827V451H828V445H829V455H830V442H831V443H832V449H833V455H834V444H835V451H836V449H837V450H838V449H839V442H840V449H841V444H842V447H843V451H844V445H845V443H846V448H847V449H848V445H849H850V451H851V442H852V441H853V444H854V449H855V437H856V444H857V452H858V440H859V445H860V453H861V450H862H863V445H864V451H865V449H866V451H867V447H868V450H869V449H870V440H871V442H872V451H873V440H874V450H875V452H876V446H877V447H878V448H879V437H880V450H881V448H882V453H883V447H884H885V452H886V459H887V451H888V452H889V448H890V452H891V454H892V450H893V448H894V454H895V440H896V452H897V449H898V450H899V438H900V443H901V452H902V442H903V448H904V450H905V439H906V445H907V451H908V433H909V446H910V445H911V448H912H913V456H914V445H915V448H916V446H917V451H918V446H919V453H920V424H921V446H922V451H923V448H924V453H925V448H926V440H927V446H928V445H929H930V452H931V451H932V446H933V454H934V451H935V454H936V452H937V447H938V444H939V433H940V441H941V444H942V443H943H944V447H945V448H946V446H947H948V454H949V442H950V448H951V447H952V450H953V453H954V443H955V448H956V452H957V450H958V449H959V451H960V446H961V448H962V444H963V443H964V445H965V448H966H967V450H968V449H969V450H970V438H971V447H972H973V446H974V437H975V443H976H977V451H978H979V452H980V432H981V447H982V450H983V449H984V447H985V444H986V447H987V445H988V456H989V453H990V437H991V443H992V451H993V449H994V452H995H996V448H997V452H998V444H999V448H1000V451H1001V442H1002V452H1003V453H1004H1005V443H1006V452H1007V454H1008V447H1009H1010V451H1011V449H1012H1013V444H1014V447H1015V440H1016V435H1017V453H1018V451H1019V448H1020V442H1021V452H1022V453H1023V457H1024V446H1025V443H1026V455H1027V454H1028V444H1029V447H1030V450H1031V447H1032V451H1033V445H1034V443H1035V458H1036V446H1037H1038V452H1039V447H1040V450H1041V451H1042V448H1043V462H1044V458H1045H1046V468H1047V462H1048V465H1049V460H1050V459H1051V469H1052V462H1053V469H1054V466H1055V470H1056V456H1057V465H1058V463H1059V465H1060H1061V467H1062V466H1063V465H1064V459H1065V470H1066V458H1067V473H1068V450H1069V462H1070H1071H1072V463H1073V459H1074V471H1075V465H1076V473H1077V469H1078V464H1079V466H1080H1081V471H1082V462H1083V467H1084V465H1085V452H1086V466H1087V462H1088V466H1089V463H1090V469H1091V468H1092V467H1093V460H1094V467H1095H1096V463H1097V466H1098V464H1099V469H1100V470H1101V466H1102V468H1103V469H1104V472H1105V456H1106V465H1107H1108V459H1109V456H1110V465H1111V452H1112V467H1113V468H1114V471H1115V468H1116V465H1117V468H1118V456H1119V471H1120V458H1121V465H1122V468H1123V470H1124V472H1125H1126V473H1127V469H1128V460H1129V471H1130V473H1131V466H1132V468H1133V467H1134V472H1135V466H1136V465H1137V449H1138V454H1139V465H1140V456H1141V464H1142V469H1143V453H1144V467H1145V466H1146V465H1147V470H1148V468H1149V470H1150H1151V468H1152V459H1153V464H1154V467H1155V466H1156H1157V469H1158V458H1159V465H1160V464H1161V468H1162V457H1163V463H1164V445H1165V470H1166V469H1167V465H1168V468H1169V464H1170V467H1171V461H1172H1173V472H1174V456H1175V469H1176V466H1177V465H1178V459H1179V469H1180V473H1181V471H1182V463H1183V470H1184V463H1185H1186V455H1187V435H1188V469H1189V460H1190V467H1191V470H1192V469H1193V471H1194V443H1195V475H1196V462H1197V465H1198V467H1199V469H1200V468H1201V456H1202V461H1203V470H1204V467H1205V456H1206V472H1207V466H1208V464H1209V470H1210V468H1211V459H1212V466H1213V462H1214V464H1215V470H1216V471H1217V465H1218V469H1219V471H1220V472H1221V462H1222V464H1223V460H1224V473H1225V463H1226V469H1227V459H1228V464H1229V471H1230V459H1231V468H1232V456H1233V467H1234V462H1235V468H1236H1237V470H1238V450H1239V462H1240V448H1241V472H1242V465H1243V467H1244V469H1245V465H1246V456H1247V463H1248V465H1249V469H1250V466H1251V474H1252V470H1253V465H1254H1255V470H1256V467H1257V454H1258V469H1259V468H1260V465H1261V466H1262V465H1263V471H1264V464H1265V466H1266V471H1267V465H1268H1269V468H1270V469H1271V459H1272V464H1273V468H1274V463H1275V468H1276H1277V471H1278H1279H1280V464H1281V472H1282V468H1283V470H1284V464H1285V471H1286V467H1287V470H1288V465H1289V462H1290V455H1291V466H1292V476H1293V464H1294H1295V463H1296V464H1297V471H1298V457H1299V469H1300V462H1301V470H1302H1303V469H1304V471H1305V468H1306V471H1307V462H1308V465H1309V462H1310V466H1311V470H1312V473H1313V471H1314V468H1315V466H1316H1317V459H1318V462H1319V464H1320V466H1321V468H1322V466H1323V471H1324V464H1325V460H1326V468H1327V475H1328V467H1329V470H1330V460H1331V473H1332V466H1333H1334V474H1335V463H1336V471H1337V463H1338H1339V554H1338V555H1337V560H1336V555H1335H1334V560H1333V562H1332V559H1331V552H1330H1329V556H1328H1327V549H1326V555H1325V553H1324V551H1323V559H1322V551H1321V561H1320V557H1319V560H1318V552H1317V553H1316H1315V558H1314V568H1313V553H1312V554H1311V550H1310V553H1309V551H1308V548H1307V551H1306V558H1305H1304V565H1303V554H1302V553H1301V557H1300V550H1299V566H1298V555H1297V562H1296V557H1295V546H1294V553H1293V555H1292V560H1291V567H1290V571H1289V553H1288V555H1287V564H1286V549H1285V558H1284V559H1283V554H1282V564H1281V568H1280V556H1279V555H1278V551H1277V552H1276V554H1275V561H1274V551H1273V562H1272V561H1271V558H1270V567H1269V559H1268V553H1267V561H1266V560H1265V557H1264V558H1263V554H1262V550H1261V551H1260V560H1259V550H1258H1257V547H1256V557H1255V559H1254V548H1253V549H1252V548H1251V552H1250V554H1249V555H1248V557H1247V558H1246V553H1245V558H1244V554H1243V555H1242V559H1241V553H1240H1239V567H1238V560H1237V561H1236V553H1235V555H1234V553H1233V552H1232V553H1231V577H1230V548H1229V552H1228V546H1227V552H1226V549H1225V558H1224V553H1223V549H1222V555H1221V562H1220V559H1219V557H1218V556H1217V558H1216V552H1215V553H1214V558H1213V550H1212V560H1211V564H1210V550H1209V567H1208V564H1207V574H1206V560H1205V552H1204V569H1203V554H1202V552H1201V553H1200V556H1199V551H1198V558H1197V549H1196V556H1195V565H1194V558H1193V553H1192H1191V558H1190H1189V551H1188H1187V555H1186H1185H1184V559H1183V553H1182V552H1181V561H1180V567H1179V560H1178V550H1177V556H1176V564H1175V560H1174V557H1173V560H1172V552H1171V555H1170V551H1169V561H1168V562H1167V555H1166V553H1165V561H1164V556H1163V564H1162V565H1161V555H1160H1159V551H1158V555H1157V553H1156V558H1155V554H1154V559H1153V549H1152V548H1151V546H1150V547H1149V554H1148V553H1147V550H1146V549H1145V556H1144V550H1143V552H1142V561H1141V554H1140V555H1139V546H1138V551H1137V548H1136V550H1135V555H1134V557H1133V553H1132V556H1131V565H1130V566H1129V569H1128V553H1127V551H1126V552H1125V555H1124V557H1123V555H1122H1121V552H1120V557H1119V550H1118V560H1117V557H1116V554H1115V556H1114V561H1113V555H1112V553H1111H1110V547H1109V558H1108V553H1107V551H1106V545H1105V547H1104V550H1103V548H1102V558H1101V553H1100V555H1099V559H1098V553H1097V567H1096V557H1095V548H1094V551H1093V550H1092H1091V556H1090V552H1089H1088V561H1087V550H1086H1085V555H1084V556H1083V552H1082V550H1081V549H1080V548H1079V552H1078V557H1077V550H1076V553H1075V557H1074V551H1073V553H1072V557H1071V549H1070V556H1069V552H1068H1067V553H1066V552H1065V554H1064V557H1063V551H1062V552H1061V561H1060V553H1059V551H1058V557H1057V554H1056V548H1055V556H1054V549H1053V556H1052V561H1051V558H1050V557H1049V555H1048V556H1047V558H1046V553H1045V555H1044V553H1043V550H1042V542H1041V547H1040V560H1039V547H1038V551H1037V566H1036V549H1035V548H1034V556H1033V549H1032V553H1031V548H1030V544H1029V547H1028V553H1027V549H1026V543H1025V546H1024V550H1023V552H1022V542H1021V555H1020V545H1019H1018V546H1017V547H1016V550H1015V555H1014V554H1013V550H1012V551H1011V549H1010V550H1009V544H1008V545H1007V553H1006V549H1005V546H1004V547H1003V548H1002V542H1001V548H1000V558H999V545H998V547H997V544H996V549H995V551H994V556H993V548H992V546H991V550H990V548H989V546H988V548H987V547H986H985V548H984V546H983V548H982H981V544H980V541H979V547H978V550H977V549H976V554H975V566H974V553H973V555H972V549H971V555H970V554H969V556H968V550H967V551H966H965V550H964V552H963V551H962V564H961V545H960V552H959V555H958V550H957H956V554H955V550H954V559H953V547H952H951V549H950V550H949V546H948V545H947V544H946V542H945V546H944V547H943V550H942V548H941V545H940V554H939V549H938V550H937V548H936V554H935V548H934V552H933V547H932V559H931V555H930V548H929V546H928V548H927V552H926V571H925V549H924H923V546H922V549H921V548H920V547H919V544H918V548H917H916V552H915H914V543H913V548H912V546H911V547H910V546H909V558H908V552H907V545H906V549H905V545H904V557H903V546H902H901H900V550H899V547H898V549H897V542H896V550H895V545H894V543H893V547H892V549H891V543H890V564H889V549H888V558H887V552H886V557H885V551H884V550H883V559H882V553H881V573H880V555H879V549H878V541H877V552H876V548H875V552H874V547H873V548H872H871V551H870V546H869V556H868V553H867V551H866V546H865V545H864V551H863H862V548H861V550H860V551H859V554H858V550H857V553H856H855V544H854V543H853V559H852V553H851V547H850V552H849V543H848V549H847V553H846V545H845V556H844V549H843V548H842V551H841V545H840V550H839V545H838V547H837V551H836V557H835V548H834V544H833V552H832V549H831V548H830V555H829V547H828H827V549H826V546H825V553H824V548H823V549H822V553H821H820V554H819V547H818V556H817V546H816V547H815V546H814V561H813V550H812V552H811V555H810V553H809V547H808V548H807V546H806V549H805V546H804V543H803V554H802V556H801V549H800V555H799V558H798V547H797V552H796V555H795V552H794V551H793V543H792H791V552H790V546H789V553H788V549H787V554H786V542H785V549H784V545H783V549H782V557H781V554H780V544H779V542H778V546H777V543H776V554H775V547H774H773V551H772V549H771V552H770V556H769V551H768V564H767V552H766V567H765V548H764V554H763V551H762V547H761V543H760V552H759V553H758V551H757H756V546H755V551H754V548H753V544H752V550H751V561H750V549H749V546H748V552H747V545H746V551H745V547H744H743H742V549H741V545H740V552H739V556H738V544H737V562H736V545H735V547H734V546H733V547H732V548H731V552H730V546H729V544H728V548H727V555H726V549H725V544H724V546H723V547H722H721V556H720V549H719V552H718V548H717H716V562H715V565H714V545H713V548H712V550H711V549H710V556H709V551H708V541H707V544H706V548H705H704V566H703V557H702V549H701V547H700V544H699V549H698V546H697V551H696V550H695V546H694V550H693V560H692V543H691V549H690V552H689V549H688V552H687H686V549H685V551H684V558H683V546H682H681V548H680V544H679V547H678V555H677V543H676V552H675V550H674V553H673H672V551H671V548H670H669V551H668V547H667V546H666V554H665V541H664V545H663V546H662V547H661V557H660V551H659H658V550H657V547H656V550H655V551H654V542H653H652V552H651V556H650V544H649V549H648V546H647H646H645V549H644V546H643V558H642V556H641V547H640V548H639H638V554H637V550H636V546H635V544H634V558H633V554H632V546H631V551H630V546H629V545H628V559H627V549H626V547H625V558H624V553H623V557H622V548H621V545H620V547H619V555H618V554H617V546H616V554H615V551H614V553H613V547H612V554H611V552H610V546H609V550H608V553H607V558H606V550H605V559H604V552H603V549H602V551H601V546H600V545H599V547H598V554H597V555H596V543H595V545H594V553H593V546H592V542H591V552H590V546H589V555H588H587V544H586V546H585V573H584V547H583V556H582V546H581V548H580V554H579V548H578V550H577V555H576V548H575V553H574V544H573V551H572V561H571V552H570V555H569V552H568V553H567H566V551H565V552H564V562H563V564H562V551H561V556H560V547H559V555H558V560H557V550H556V556H555V546H554V553H553V548H552V555H551H550V553H549V554H548V548H547V545H546V546H545V548H544V547H543V550H542V544H541V549H540V547H539V559H538V546H537V561H536V549H535V548H534V552H533V547H532V550H531V559H530V551H529V554H528V559H527V547H526V553H525V556H524V551H523V550H522V549H521V545H520V554H519V547H518V548H517V558H516V555H515V551H514V550H513V557H512V547H511V550H510V557H509V549H508V547H507H506V550H505V548H504V545H503V548H502V555H501V556H500V558H499V555H498V552H497V546H496V545H495V552H494V553H493V555H492V554H491V548H490V563H489V548H488V558H487V554H486V553H485V554H484H483V545H482V547H481V544H480V552H479V547H478V550H477V545H476V546H475V553H474V549H473V550H472V562H471V552H470V543H469V554H468V547H467V546H466V552H465V551H464V566H463V551H462V546H461V551H460V562H459V550H458V548H457V550H456V549H455V554H454V551H453V554H452V556H451V550H450V553H449V548H448V552H447V547H446V556H445V547H444V550H443V549H442V551H441V553H440V562H439V555H438V554H437V550H436V549H435V547H434V552H433V549H432V546H431V548H430V562H429V549H428V555H427V546H426V553H425V550H424V545H423V552H422V554H421V551H420V552H419V559H418V547H417V551H416V547H415V549H414V550H413V557H412V550H411V554H410V550H409V551H408H407V543H406V556H405H404V561H403V549H402V552H401V545H400V553H399V544H398V548H397V547H396V549H395V567H394V552H393V551H392V552H391V548H390V558H389V556H388V559H387V549H386V555H385V552H384V548H383V553H382V554H381V550H380V556H379V552H378V566H377V549H376V548H375V553H374V555H373V546H372V557H371V546H370V556H369V549H368V558H367V550H366V548H365V544H364V548H363V546H362V545H361V551H360V553H359V547H358H357V555H356V551H355V545H354V559H353V545H352V550H351V555H350V552H349V551H348V547H347V557H346V550H345V553H344V550H343V555H342V552H341V554H340V558H339V550H338V554H337V551H336V554H335H334V550H333V553H332V555H331V552H330V546H329V551H328V547H327V557H326V549H325H324V546H323V547H322V551H321V553H320V551H319V550H318V564H317V556H316V551H315H314V557H313V559H312V558H311V551H310V561H309V552H308H307V546H306V547H305V554H304V557H303V552H302V551H301H300V547H299V549H298H297V551H296V549H295V550H294V546H293V547H292V551H291V562H290V546H289H288V547H287V548H286V553H285H284V545H283V555H282V549H281V551H280V553H279V550H278V547H277V548H276V547H275V557H274V547H273V549H272V545H271V547H270V545H269V552H268V549H267V553H266H265V549H264V555H263V546H262V548H261V553H260V557H259V556H258V552H257V551H256V552H255V551H254V554H253V553H252V552H251V553H250V551H249V553H248V551H247V555H246V558H245V549H244H243V548H242V549H241V567H240V549H239V554H238V558H237V553H236V557H235V547H234V552H233V551H232Z" fill="#000" shape-rendering="crispEdges"/>
<g fill="#000" shape-rendering="crispEdges"><rect x="254" y="402" width="1" height="216"/><rect x="268" y="282" width="1" height="374"/><rect x="390" y="407" width="1" height="165"/><rect x="675" y="392" width="1" height="198"/><rect x="831" y="390" width="1" height="237"/><rect x="833" y="404" width="1" height="156"/><rect x="909" y="351" width="1" height="261"/><rect x="973" y="376" width="1" height="273"/><rect x="1015" y="427" width="1" height="113"/><rect x="1086" y="371" width="1" height="264"/><rect x="1120" y="394" width="1" height="195"/><rect x="1133" y="397" width="1" height="236"/><rect x="1173" y="339" width="1" height="340"/><rect x="1194" y="445" width="1" height="135"/><rect x="1318" y="304" width="1" height="341"/></g>
<g fill="#000" shape-rendering="crispEdges"><rect x="227" y="189" width="1117" height="6"/><rect x="227" y="782" width="1117" height="6"/><rect x="227" y="189" width="5" height="599"/><rect x="1339" y="189" width="5" height="599"/><rect x="227" y="819" width="1117" height="6"/><rect x="227" y="1412" width="1117" height="5"/><rect x="227" y="819" width="5" height="598"/><rect x="1339" y="819" width="5" height="598"/><rect x="227" y="178" width="5" height="11"/><rect x="227" y="788" width="5" height="11"/><rect x="227" y="808" width="5" height="11"/><rect x="227" y="1417" width="5" height="12"/><rect x="412" y="178" width="6" height="11"/><rect x="412" y="788" width="6" height="11"/><rect x="412" y="808" width="6" height="11"/><rect x="412" y="1417" width="6" height="12"/><rect x="598" y="178" width="5" height="11"/><rect x="598" y="788" width="5" height="11"/><rect x="598" y="808" width="5" height="11"/><rect x="598" y="1417" width="5" height="12"/><rect x="783" y="178" width="5" height="11"/><rect x="783" y="788" width="5" height="11"/><rect x="783" y="808" width="5" height="11"/><rect x="783" y="1417" width="5" height="12"/><rect x="968" y="178" width="5" height="11"/><rect x="968" y="788" width="5" height="11"/><rect x="968" y="808" width="5" height="11"/><rect x="968" y="1417" width="5" height="12"/><rect x="1154" y="178" width="5" height="11"/><rect x="1154" y="788" width="5" height="11"/><rect x="1154" y="808" width="5" height="11"/><rect x="1154" y="1417" width="5" height="12"/><rect x="1339" y="178" width="5" height="11"/><rect x="1339" y="788" width="5" height="11"/><rect x="1339" y="808" width="5" height="11"/><rect x="1339" y="1417" width="5" height="12"/><rect x="320" y="184" width="5" height="5"/><rect x="320" y="788" width="5" height="5"/><rect x="320" y="814" width="5" height="5"/><rect x="320" y="1417" width="5" height="6"/><rect x="505" y="184" width="5" height="5"/><rect x="505" y="788" width="5" height="5"/><rect x="505" y="814" width="5" height="5"/><rect x="505" y="1417" width="5" height="6"/><rect x="690" y="184" width="5" height="5"/><rect x="690" y="788" width="5" height="5"/><rect x="690" y="814" width="5" height="5"/><rect x="690" y="1417" width="5" height="6"/><rect x="876" y="184" width="5" height="5"/><rect x="876" y="788" width="5" height="5"/><rect x="876" y="814" width="5" height="5"/><rect x="876" y="1417" width="5" height="6"/><rect x="1061" y="184" width="5" height="5"/><rect x="1061" y="788" width="5" height="5"/><rect x="1061" y="814" width="5" height="5"/><rect x="1061" y="1417" width="5" height="6"/><rect x="1246" y="184" width="5" height="5"/><rect x="1246" y="788" width="5" height="5"/><rect x="1246" y="814" width="5" height="5"/><rect x="1246" y="1417" width="5" height="6"/><rect x="216" y="782" width="11" height="6"/><rect x="1344" y="782" width="11" height="6"/><rect x="216" y="684" width="11" height="5"/><rect x="1344" y="684" width="11" height="5"/><rect x="216" y="584" width="11" height="6"/><rect x="1344" y="584" width="11" height="6"/><rect x="216" y="486" width="11" height="5"/><rect x="1344" y="486" width="11" height="5"/><rect x="216" y="387" width="11" height="5"/><rect x="1344" y="387" width="11" height="5"/><rect x="216" y="288" width="11" height="6"/><rect x="1344" y="288" width="11" height="6"/><rect x="216" y="189" width="11" height="6"/><rect x="1344" y="189" width="11" height="6"/><rect x="216" y="1412" width="11" height="5"/><rect x="1344" y="1412" width="11" height="5"/><rect x="216" y="1252" width="11" height="5"/><rect x="1344" y="1252" width="11" height="5"/><rect x="216" y="1091" width="11" height="6"/><rect x="1344" y="1091" width="11" height="6"/><rect x="216" y="931" width="11" height="6"/><rect x="1344" y="931" width="11" height="6"/></g>
<g shape-rendering="crispEdges"><rect x="1381" y="1406.12" width="17" height="6.18" fill="rgb(249, 0, 255)"/><rect x="1381" y="1400.24" width="17" height="6.18" fill="rgb(236, 0, 255)"/><rect x="1381" y="1394.36" width="17" height="6.18" fill="rgb(223, 0, 255)"/><rect x="1381" y="1388.48" width="17" height="6.18" fill="rgb(210, 0, 255)"/><rect x="1381" y="1382.60" width="17" height="6.18" fill="rgb(198, 0, 255)"/><rect x="1381" y="1376.72" width="17" height="6.18" fill="rgb(185, 0, 255)"/><rect x="1381" y="1370.84" width="17" height="6.18" fill="rgb(172, 0, 255)"/><rect x="1381" y="1364.96" width="17" height="6.18" fill="rgb(159, 0, 255)"/><rect x="1381" y="1359.08" width="17" height="6.18" fill="rgb(147, 0, 255)"/><rect x="1381" y="1353.20" width="17" height="6.18" fill="rgb(134, 0, 255)"/><rect x="1381" y="1347.32" width="17" height="6.18" fill="rgb(121, 0, 255)"/><rect x="1381" y="1341.44" width="17" height="6.18" fill="rgb(108, 0, 255)"/><rect x="1381" y="1335.56" width="17" height="6.18" fill="rgb(96, 0, 255)"/><rect x="1381" y="1329.68" width="17" height="6.18" fill="rgb(83, 0, 255)"/><rect x="1381" y="1323.80" width="17" height="6.18" fill="rgb(70, 0, 255)"/><rect x="1381" y="1317.92" width="17" height="6.18" fill="rgb(57, 0, 255)"/><rect x="1381" y="1312.04" width="17" height="6.18" fill="rgb(45, 0, 255)"/><rect x="1381" y="1306.16" width="17" height="6.18" fill="rgb(32, 0, 255)"/><rect x="1381" y="1300.28" width="17" height="6.18" fill="rgb(19, 0, 255)"/><rect x="1381" y="1294.40" width="17" height="6.18" fill="rgb(6, 0, 255)"/><rect x="1381" y="1288.52" width="17" height="6.18" fill="rgb(0, 6, 255)"/><rect x="1381" y="1282.64" width="17" height="6.18" fill="rgb(0, 19, 255)"/><rect x="1381" y="1276.76" width="17" height="6.18" fill="rgb(0, 32, 255)"/><rect x="1381" y="1270.88" width="17" height="6.18" fill="rgb(0, 45, 255)"/><rect x="1381" y="1265.00" width="17" height="6.18" fill="rgb(0, 57, 255)"/><rect x="1381" y="1259.12" width="17" height="6.18" fill="rgb(0, 70, 255)"/><rect x="1381" y="1253.24" width="17" height="6.18" fill="rgb(0, 83, 255)"/><rect x="1381" y="1247.36" width="17" height="6.18" fill="rgb(0, 96, 255)"/><rect x="1381" y="1241.48" width="17" height="6.18" fill="rgb(0, 108, 255)"/><rect x="1381" y="1235.60" width="17" height="6.18" fill="rgb(0, 121, 255)"/><rect x="1381" y="1229.72" width="17" height="6.18" fill="rgb(0, 134, 255)"/><rect x="1381" y="1223.84" width="17" height="6.18" fill="rgb(0, 147, 255)"/><rect x="1381" y="1217.96" width="17" height="6.18" fill="rgb(0, 159, 255)"/><rect x="1381" y="1212.08" width="17" height="6.18" fill="rgb(0, 172, 255)"/><rect x="1381" y="1206.20" width="17" height="6.18" fill="rgb(0, 185, 255)"/><rect x="1381" y="1200.32" width="17" height="6.18" fill="rgb(0, 198, 255)"/><rect x="1381" y="1194.44" width="17" height="6.18" fill="rgb(0, 210, 255)"/><rect x="1381" y="1188.56" width="17" height="6.18" fill="rgb(0, 223, 255)"/><rect x="1381" y="1182.68" width="17" height="6.18" fill="rgb(0, 236, 255)"/><rect x="1381" y="1176.80" width="17" height="6.18" fill="rgb(0, 249, 255)"/><rect x="1381" y="1170.92" width="17" height="6.18" fill="rgb(0, 255, 249)"/><rect x="1381" y="1165.04" width="17" height="6.18" fill="rgb(0, 255, 236)"/><rect x="1381" y="1159.16" width="17" height="6.18" fill="rgb(0, 255, 223)"/><rect x="1381" y="1153.28" width="17" height="6.18" fill="rgb(0, 255, 210)"/><rect x="1381" y="1147.40" width="17" height="6.18" fill="rgb(0, 255, 198)"/><rect x="1381" y="1141.52" width="17" height="6.18" fill="rgb(0, 255, 185)"/><rect x="1381" y="1135.64" width="17" height="6.18" fill="rgb(0, 255, 172)"/><rect x="1381" y="1129.76" width="17" height="6.18" fill="rgb(0, 255, 159)"/><rect x="1381" y="1123.88" width="17" height="6.18" fill="rgb(0, 255, 147)"/><rect x="1381" y="1118.00" width="17" height="6.18" fill="rgb(0, 255, 134)"/><rect x="1381" y="1112.12" width="17" height="6.18" fill="rgb(0, 255, 121)"/><rect x="1381" y="1106.24" width="17" height="6.18" fill="rgb(0, 255, 108)"/><rect x="1381" y="1100.36" width="17" height="6.18" fill="rgb(0, 255, 96)"/><rect x="1381" y="1094.48" width="17" height="6.18" fill="rgb(0, 255, 83)"/><rect x="1381" y="1088.60" width="17" height="6.18" fill="rgb(0, 255, 70)"/><rect x="1381" y="1082.72" width="17" height="6.18" fill="rgb(0, 255, 57)"/><rect x="1381" y="1076.84" width="17" height="6.18" fill="rgb(0, 255, 45)"/><rect x="1381" y="1070.96" width="17" height="6.18" fill="rgb(0, 255, 32)"/><rect x="1381" y="1065.08" width="17" height="6.18" fill="rgb(0, 255, 19)"/><rect x="1381" y="1059.20" width="17" height="6.18" fill="rgb(0, 255, 6)"/><rect x="1381" y="1053.32" width="17" height="6.18" fill="rgb(6, 255, 0)"/><rect x="1381" y="1047.44" width="17" height="6.18" fill="rgb(19, 255, 0)"/><rect x="1381" y="1041.56" width="17" height="6.18" fill="rgb(32, 255, 0)"/><rect x="1381" y="1035.68" width="17" height="6.18" fill="rgb(45, 255, 0)"/><rect x="1381" y="1029.80" width="17" height="6.18" fill="rgb(57, 255, 0)"/><rect x="1381" y="1023.92" width="17" height="6.18" fill="rgb(70, 255, 0)"/><rect x="1381" y="1018.04" width="17" height="6.18" fill="rgb(83, 255, 0)"/><rect x="1381" y="1012.16" width="17" height="6.18" fill="rgb(96, 255, 0)"/><rect x="1381" y="1006.28" width="17" height="6.18" fill="rgb(108, 255, 0)"/><rect x="1381" y="1000.40" width="17" height="6.18" fill="rgb(121, 255, 0)"/><rect x="1381" y="994.52" width="17" height="6.18" fill="rgb(134, 255, 0)"/><rect x="1381" y="988.64" width="17" height="6.18" fill="rgb(147, 255, 0)"/><rect x="1381" y="982.76" width="17" height="6.18" fill="rgb(159, 255, 0)"/><rect x="1381" y="976.88" width="17" height="6.18" fill="rgb(172, 255, 0)"/><rect x="1381" y="971.00" width="17" height="6.18" fill="rgb(185, 255, 0)"/><rect x="1381" y="965.12" width="17" height="6.18" fill="rgb(198, 255, 0)"/><rect x="1381" y="959.24" width="17" height="6.18" fill="rgb(210, 255, 0)"/><rect x="1381" y="953.36" width="17" height="6.18" fill="rgb(223, 255, 0)"/><rect x="1381" y="947.48" width="17" height="6.18" fill="rgb(236, 255, 0)"/><rect x="1381" y="941.60" width="17" height="6.18" fill="rgb(249, 255, 0)"/><rect x="1381" y="935.72" width="17" height="6.18" fill="rgb(255, 249, 0)"/><rect x="1381" y="929.84" width="17" height="6.18" fill="rgb(255, 236, 0)"/><rect x="1381" y="923.96" width="17" height="6.18" fill="rgb(255, 223, 0)"/><rect x="1381" y="918.08" width="17" height="6.18" fill="rgb(255, 210, 0)"/><rect x="1381" y="912.20" width="17" height="6.18" fill="rgb(255, 198, 0)"/><rect x="1381" y="906.32" width="17" height="6.18" fill="rgb(255, 185, 0)"/><rect x="1381" y="900.44" width="17" height="6.18" fill="rgb(255, 172, 0)"/><rect x="1381" y="894.56" width="17" height="6.18" fill="rgb(255, 159, 0)"/><rect x="1381" y="888.68" width="17" height="6.18" fill="rgb(255, 147, 0)"/><rect x="1381" y="882.80" width="17" height="6.18" fill="rgb(255, 134, 0)"/><rect x="1381" y="876.92" width="17" height="6.18" fill="rgb(255, 121, 0)"/><rect x="1381" y="871.04" width="17" height="6.18" fill="rgb(255, 108, 0)"/><rect x="1381" y="865.16" width="17" height="6.18" fill="rgb(255, 96, 0)"/><rect x="1381" y="859.28" width="17" height="6.18" fill="rgb(255, 83, 0)"/><rect x="1381" y="853.40" width="17" height="6.18" fill="rgb(255, 70, 0)"/><rect x="1381" y="847.52" width="17" height="6.18" fill="rgb(255, 57, 0)"/><rect x="1381" y="841.64" width="17" height="6.18" fill="rgb(255, 45, 0)"/><rect x="1381" y="835.76" width="17" height="6.18" fill="rgb(255, 32, 0)"/><rect x="1381" y="829.88" width="17" height="6.18" fill="rgb(255, 19, 0)"/><rect x="1381" y="824.00" width="17" height="6.18" fill="rgb(255, 6, 0)"/></g>
<g fill="#000" shape-rendering="crispEdges"><rect x="1376" y="819" width="27" height="5"/><rect x="1376" y="1412" width="27" height="5"/><rect x="1376" y="819" width="5" height="598"/><rect x="1398" y="819" width="5" height="598"/><rect x="1403" y="1412" width="9" height="5"/><rect x="1403" y="1353" width="9" height="5"/><rect x="1403" y="1294" width="9" height="5"/><rect x="1403" y="1234" width="9" height="5"/><rect x="1403" y="1175" width="9" height="5"/><rect x="1403" y="1116" width="9" height="5"/><rect x="1403" y="1056" width="9" height="5"/><rect x="1403" y="997" width="9" height="5"/><rect x="1403" y="938" width="9" height="5"/><rect x="1403" y="878" width="9" height="5"/><rect x="1403" y="819" width="9" height="5"/></g>
<filter id="thr" x="0" y="0" width="1556" height="1600" filterUnits="userSpaceOnUse" color-interpolation-filters="sRGB"><feComponentTransfer><feFuncA type="discrete" tableValues="0 0 1"/></feComponentTransfer></filter>
<mask id="nf" maskUnits="userSpaceOnUse" x="0" y="0" width="1556" height="1600"><rect x="0" y="0" width="1556" height="1600" fill="#fff"/><g fill="#000"><g transform="translate(785,74.3) scale(0.975,1)"><rect x="-86.69" y="-5.50" width="7.850" height="6.70"/><rect x="-73.322" y="-5.50" width="7.34" height="6.70"/><rect x="-66.55" y="-5.50" width="7.850" height="6.70"/><rect x="-53.182" y="-5.50" width="7.34" height="6.70"/></g><rect x="216.72" y="162.16" width="5.073" height="5.04"/><rect x="225.068" y="162.16" width="4.77" height="5.04"/><rect x="216.72" y="1454.16" width="5.073" height="5.04"/><rect x="225.068" y="1454.16" width="4.77" height="5.04"/><rect x="402.02" y="162.16" width="5.073" height="5.04"/><rect x="410.368" y="162.16" width="4.77" height="5.04"/><rect x="402.02" y="1454.16" width="5.073" height="5.04"/><rect x="410.368" y="1454.16" width="4.77" height="5.04"/><rect x="587.42" y="162.16" width="5.073" height="5.04"/><rect x="595.768" y="162.16" width="4.77" height="5.04"/><rect x="587.42" y="1454.16" width="5.073" height="5.04"/><rect x="595.768" y="1454.16" width="4.77" height="5.04"/><rect x="772.72" y="162.16" width="5.073" height="5.04"/><rect x="781.068" y="162.16" width="4.77" height="5.04"/><rect x="772.72" y="1454.16" width="5.073" height="5.04"/><rect x="781.068" y="1454.16" width="4.77" height="5.04"/><rect x="958.02" y="162.16" width="5.073" height="5.04"/><rect x="966.368" y="162.16" width="4.77" height="5.04"/><rect x="958.02" y="1454.16" width="5.073" height="5.04"/><rect x="966.368" y="1454.16" width="4.77" height="5.04"/><rect x="1143.42" y="162.16" width="5.073" height="5.04"/><rect x="1151.768" y="162.16" width="4.77" height="5.04"/><rect x="1143.42" y="1454.16" width="5.073" height="5.04"/><rect x="1151.768" y="1454.16" width="4.77" height="5.04"/><rect x="1328.72" y="162.16" width="5.073" height="5.04"/><rect x="1337.068" y="162.16" width="4.77" height="5.04"/><rect x="1328.72" y="1454.16" width="5.073" height="5.04"/><rect x="1337.068" y="1454.16" width="4.77" height="5.04"/><rect x="191.01" y="394.86" width="5.073" height="5.04"/><rect x="199.361" y="394.86" width="4.77" height="5.04"/><rect x="191.01" y="592.46" width="5.073" height="5.04"/><rect x="199.361" y="592.46" width="4.77" height="5.04"/><rect x="191.01" y="1419.16" width="5.073" height="5.04"/><rect x="199.361" y="1419.16" width="4.77" height="5.04"/><rect x="191.01" y="1259.16" width="5.073" height="5.04"/><rect x="199.361" y="1259.16" width="4.77" height="5.04"/><rect x="191.01" y="1099.16" width="5.073" height="5.04"/><rect x="199.361" y="1099.16" width="4.77" height="5.04"/><rect x="177.73" y="939.16" width="5.073" height="5.04"/><rect x="186.079" y="939.16" width="4.77" height="5.04"/><rect x="1448.43" y="1360.36" width="5.073" height="5.04"/><rect x="1456.779" y="1360.36" width="4.77" height="5.04"/><rect x="1428.51" y="827.16" width="5.073" height="5.04"/><rect x="1436.857" y="827.16" width="4.77" height="5.04"/></g></mask><g fill="#000" filter="url(#thr)"><g mask="url(#nf)"><text font-size="40.2" text-anchor="middle" transform="translate(785,74.3) scale(0.975,1)">20260311_HLE.D_pic_2</text><text x="785" y="111" font-size="23.9" text-anchor="middle">Time [hour]</text><text x="785" y="1514" font-size="23.9" text-anchor="middle">Time [hour]</text><text x="229.5" y="166" font-size="23.9" text-anchor="middle">12</text><text x="229.5" y="1458" font-size="23.9" text-anchor="middle">12</text><text x="414.8" y="166" font-size="23.9" text-anchor="middle">13</text><text x="414.8" y="1458" font-size="23.9" text-anchor="middle">13</text><text x="600.2" y="166" font-size="23.9" text-anchor="middle">14</text><text x="600.2" y="1458" font-size="23.9" text-anchor="middle">14</text><text x="785.5" y="166" font-size="23.9" text-anchor="middle">15</text><text x="785.5" y="1458" font-size="23.9" text-anchor="middle">15</text><text x="970.8" y="166" font-size="23.9" text-anchor="middle">16</text><text x="970.8" y="1458" font-size="23.9" text-anchor="middle">16</text><text x="1156.2" y="166" font-size="23.9" text-anchor="middle">17</text><text x="1156.2" y="1458" font-size="23.9" text-anchor="middle">17</text><text x="1341.5" y="166" font-size="23.9" text-anchor="middle">18</text><text x="1341.5" y="1458" font-size="23.9" text-anchor="middle">18</text><text x="203.8" y="201.1" font-size="23.9" text-anchor="end">0.0003</text><text x="203.8" y="299.9" font-size="23.9" text-anchor="end">0.0002</text><text x="203.8" y="398.7" font-size="23.9" text-anchor="end">0.0001</text><text x="203.8" y="497.5" font-size="23.9" text-anchor="end">0.0000</text><text x="203.8" y="596.3" font-size="23.9" text-anchor="end">&#8722;0.0001</text><text x="203.8" y="695.1" font-size="23.9" text-anchor="end">&#8722;0.0002</text><text x="203.8" y="793.9" font-size="23.9" text-anchor="end">&#8722;0.0003</text><text x="203.8" y="1423.0" font-size="23.9" text-anchor="end">0.01</text><text x="203.8" y="1263.0" font-size="23.9" text-anchor="end">0.1</text><text x="203.8" y="1103.0" font-size="23.9" text-anchor="end">1</text><text x="203.8" y="943.0" font-size="23.9" text-anchor="end">10</text><text x="1428" y="1423.5" font-size="23.9" text-anchor="start">0.0</text><text x="1428" y="1364.2" font-size="23.9" text-anchor="start">0.1</text><text x="1428" y="1305.0" font-size="23.9" text-anchor="start">0.2</text><text x="1428" y="1245.8" font-size="23.9" text-anchor="start">0.3</text><text x="1428" y="1186.5" font-size="23.9" text-anchor="start">0.4</text><text x="1428" y="1127.2" font-size="23.9" text-anchor="start">0.5</text><text x="1428" y="1068.0" font-size="23.9" text-anchor="start">0.6</text><text x="1428" y="1008.8" font-size="23.9" text-anchor="start">0.7</text><text x="1428" y="949.5" font-size="23.9" text-anchor="start">0.8</text><text x="1428" y="890.2" font-size="23.9" text-anchor="start">0.9</text><text x="1428" y="831.0" font-size="23.9" text-anchor="start">1.0</text><text font-size="23.9" text-anchor="middle" transform="translate(81,488.75) rotate(-90)">Velocity [m/s]</text><text font-size="23.9" text-anchor="middle" transform="translate(121,1118.5) rotate(-90)">Frequency [Hz]</text><text font-size="23.9" text-anchor="middle" transform="translate(1500,1118.5) rotate(-90)">Intensity (logscale)</text></g></g>
</svg></body></html>
